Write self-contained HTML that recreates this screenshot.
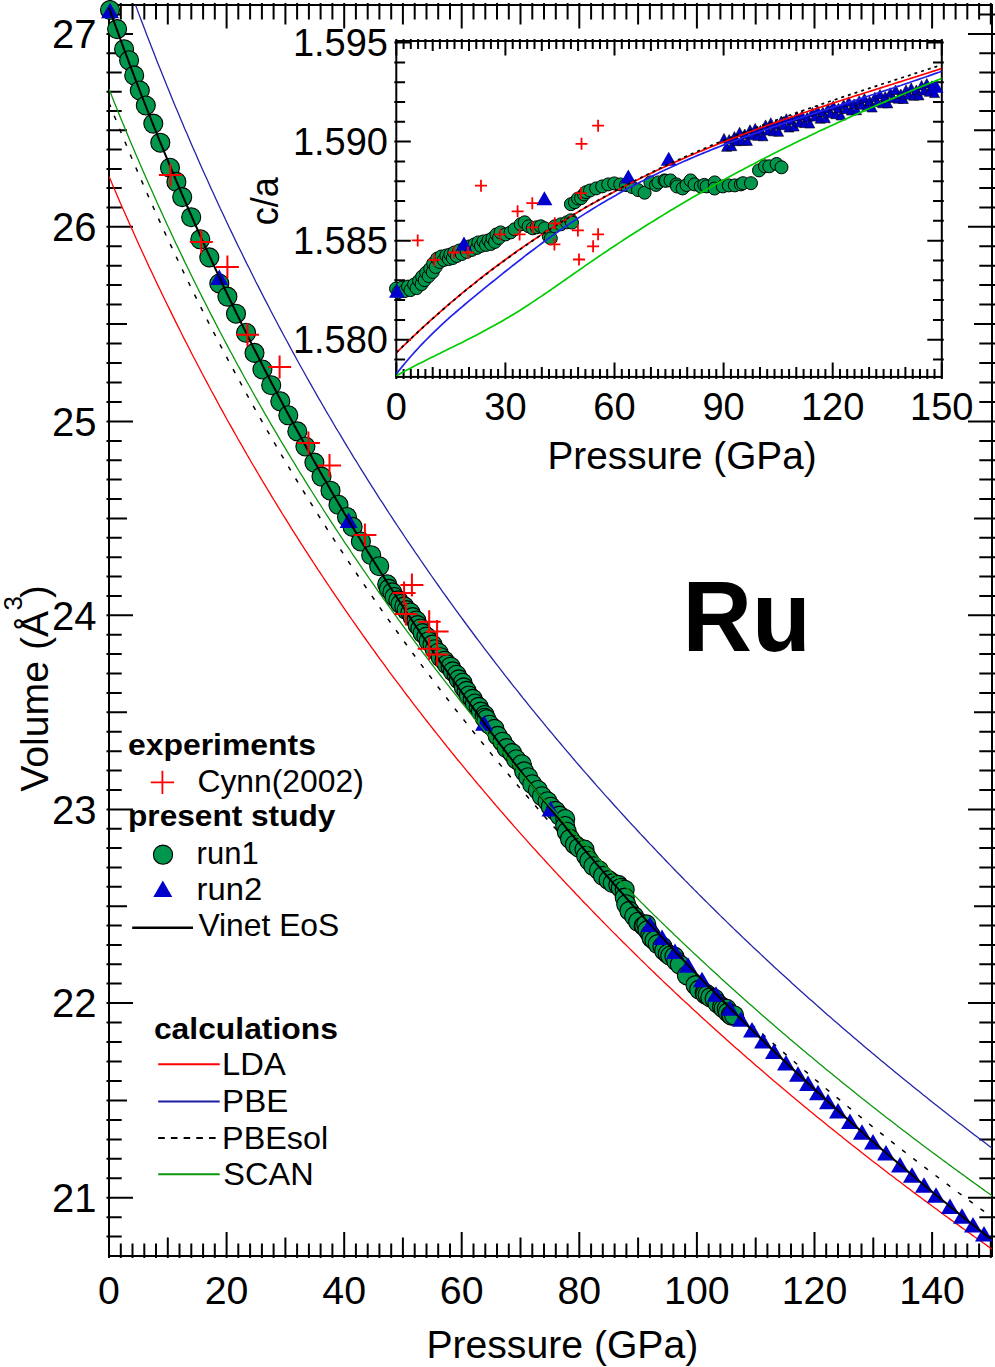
<!DOCTYPE html>
<html><head><meta charset="utf-8"><style>html,body{margin:0;padding:0;background:#fff;}svg{display:block;}</style></head>
<body>
<svg width="995" height="1367" viewBox="0 0 995 1367" font-family="'Liberation Sans', sans-serif">
<defs>
<clipPath id="cm"><rect x="109" y="5" width="883" height="1251"/></clipPath>
<clipPath id="ci"><rect x="396.3" y="41" width="545.5" height="335.9"/></clipPath>
</defs>
<rect width="995" height="1367" fill="#fff"/>
<rect x="109" y="5" width="883" height="1251" fill="none" stroke="#000" stroke-width="2"/>
<path d="M109,1258V1232M109,3V28.5M120.8,1258V1243.5M120.8,3V19.5M132.5,1258V1243.5M132.5,3V19.5M144.3,1258V1243.5M144.3,3V19.5M156,1258V1243.5M156,3V19.5M167.8,1258V1237.5M167.8,3V24.6M179.5,1258V1243.5M179.5,3V19.5M191.3,1258V1243.5M191.3,3V19.5M203.1,1258V1243.5M203.1,3V19.5M214.8,1258V1243.5M214.8,3V19.5M226.6,1258V1232M226.6,3V28.5M238.3,1258V1243.5M238.3,3V19.5M250.1,1258V1243.5M250.1,3V19.5M261.9,1258V1243.5M261.9,3V19.5M273.6,1258V1243.5M273.6,3V19.5M285.4,1258V1237.5M285.4,3V24.6M297.1,1258V1243.5M297.1,3V19.5M308.9,1258V1243.5M308.9,3V19.5M320.6,1258V1243.5M320.6,3V19.5M332.4,1258V1243.5M332.4,3V19.5M344.2,1258V1232M344.2,3V28.5M355.9,1258V1243.5M355.9,3V19.5M367.7,1258V1243.5M367.7,3V19.5M379.4,1258V1243.5M379.4,3V19.5M391.2,1258V1243.5M391.2,3V19.5M402.9,1258V1237.5M402.9,3V24.6M414.7,1258V1243.5M414.7,3V19.5M426.5,1258V1243.5M426.5,3V19.5M438.2,1258V1243.5M438.2,3V19.5M450,1258V1243.5M450,3V19.5M461.7,1258V1232M461.7,3V28.5M473.5,1258V1243.5M473.5,3V19.5M485.3,1258V1243.5M485.3,3V19.5M497,1258V1243.5M497,3V19.5M508.8,1258V1243.5M508.8,3V19.5M520.5,1258V1237.5M520.5,3V24.6M532.3,1258V1243.5M532.3,3V19.5M544,1258V1243.5M544,3V19.5M555.8,1258V1243.5M555.8,3V19.5M567.6,1258V1243.5M567.6,3V19.5M579.3,1258V1232M579.3,3V28.5M591.1,1258V1243.5M591.1,3V19.5M602.8,1258V1243.5M602.8,3V19.5M614.6,1258V1243.5M614.6,3V19.5M626.4,1258V1243.5M626.4,3V19.5M638.1,1258V1237.5M638.1,3V24.6M649.9,1258V1243.5M649.9,3V19.5M661.6,1258V1243.5M661.6,3V19.5M673.4,1258V1243.5M673.4,3V19.5M685.1,1258V1243.5M685.1,3V19.5M696.9,1258V1232M696.9,3V28.5M708.7,1258V1243.5M708.7,3V19.5M720.4,1258V1243.5M720.4,3V19.5M732.2,1258V1243.5M732.2,3V19.5M743.9,1258V1243.5M743.9,3V19.5M755.7,1258V1237.5M755.7,3V24.6M767.4,1258V1243.5M767.4,3V19.5M779.2,1258V1243.5M779.2,3V19.5M791,1258V1243.5M791,3V19.5M802.7,1258V1243.5M802.7,3V19.5M814.5,1258V1232M814.5,3V28.5M826.2,1258V1243.5M826.2,3V19.5M838,1258V1243.5M838,3V19.5M849.8,1258V1243.5M849.8,3V19.5M861.5,1258V1243.5M861.5,3V19.5M873.3,1258V1237.5M873.3,3V24.6M885,1258V1243.5M885,3V19.5M896.8,1258V1243.5M896.8,3V19.5M908.5,1258V1243.5M908.5,3V19.5M920.3,1258V1243.5M920.3,3V19.5M932.1,1258V1232M932.1,3V28.5M943.8,1258V1243.5M943.8,3V19.5M955.6,1258V1243.5M955.6,3V19.5M967.3,1258V1243.5M967.3,3V19.5M979.1,1258V1243.5M979.1,3V19.5M990.8,1258V1237.5M990.8,3V24.6M106.5,1236.6H121.7M995.5,1236.6H979.3M106.5,1217.2H121.7M995.5,1217.2H979.3M106.5,1197.8H133M995.5,1197.8H968M106.5,1178.3H121.7M995.5,1178.3H979.3M106.5,1158.8H121.7M995.5,1158.8H979.3M106.5,1139.4H121.7M995.5,1139.4H979.3M106.5,1119.9H121.7M995.5,1119.9H979.3M106.5,1100.4H127M995.5,1100.4H974M106.5,1080.9H121.7M995.5,1080.9H979.3M106.5,1061.4H121.7M995.5,1061.4H979.3M106.5,1042H121.7M995.5,1042H979.3M106.5,1022.5H121.7M995.5,1022.5H979.3M106.5,1003H133M995.5,1003H968M106.5,983.6H121.7M995.5,983.6H979.3M106.5,964.3H121.7M995.5,964.3H979.3M106.5,944.9H121.7M995.5,944.9H979.3M106.5,925.6H121.7M995.5,925.6H979.3M106.5,906.2H127M995.5,906.2H974M106.5,886.8H121.7M995.5,886.8H979.3M106.5,867.5H121.7M995.5,867.5H979.3M106.5,848.1H121.7M995.5,848.1H979.3M106.5,828.8H121.7M995.5,828.8H979.3M106.5,809.4H133M995.5,809.4H968M106.5,790H121.7M995.5,790H979.3M106.5,770.6H121.7M995.5,770.6H979.3M106.5,751.2H121.7M995.5,751.2H979.3M106.5,731.8H121.7M995.5,731.8H979.3M106.5,712.3H127M995.5,712.3H974M106.5,692.9H121.7M995.5,692.9H979.3M106.5,673.5H121.7M995.5,673.5H979.3M106.5,654.1H121.7M995.5,654.1H979.3M106.5,634.7H121.7M995.5,634.7H979.3M106.5,615.3H133M995.5,615.3H968M106.5,595.9H121.7M995.5,595.9H979.3M106.5,576.5H121.7M995.5,576.5H979.3M106.5,557.2H121.7M995.5,557.2H979.3M106.5,537.8H121.7M995.5,537.8H979.3M106.5,518.4H127M995.5,518.4H974M106.5,499H121.7M995.5,499H979.3M106.5,479.6H121.7M995.5,479.6H979.3M106.5,460.3H121.7M995.5,460.3H979.3M106.5,440.9H121.7M995.5,440.9H979.3M106.5,421.5H133M995.5,421.5H968M106.5,402H121.7M995.5,402H979.3M106.5,382.5H121.7M995.5,382.5H979.3M106.5,363.1H121.7M995.5,363.1H979.3M106.5,343.6H121.7M995.5,343.6H979.3M106.5,324.1H127M995.5,324.1H974M106.5,304.6H121.7M995.5,304.6H979.3M106.5,285.1H121.7M995.5,285.1H979.3M106.5,265.7H121.7M995.5,265.7H979.3M106.5,246.2H121.7M995.5,246.2H979.3M106.5,226.7H133M995.5,226.7H968M106.5,207.4H121.7M995.5,207.4H979.3M106.5,188.1H121.7M995.5,188.1H979.3M106.5,168.9H121.7M995.5,168.9H979.3M106.5,149.6H121.7M995.5,149.6H979.3M106.5,130.3H127M995.5,130.3H974M106.5,111H121.7M995.5,111H979.3M106.5,91.7H121.7M995.5,91.7H979.3M106.5,72.5H121.7M995.5,72.5H979.3M106.5,53.2H121.7M995.5,53.2H979.3M106.5,33.9H133M995.5,33.9H968M106.5,14.5H121.7M995.5,14.5H979.3" stroke="#000" stroke-width="2" fill="none"/>
<text x="109" y="1304.2" font-size="39.3" text-anchor="middle" font-weight="normal">0</text>
<text x="226.6" y="1304.2" font-size="39.3" text-anchor="middle" font-weight="normal">20</text>
<text x="344.2" y="1304.2" font-size="39.3" text-anchor="middle" font-weight="normal">40</text>
<text x="461.7" y="1304.2" font-size="39.3" text-anchor="middle" font-weight="normal">60</text>
<text x="579.3" y="1304.2" font-size="39.3" text-anchor="middle" font-weight="normal">80</text>
<text x="696.9" y="1304.2" font-size="39.3" text-anchor="middle" font-weight="normal">100</text>
<text x="814.5" y="1304.2" font-size="39.3" text-anchor="middle" font-weight="normal">120</text>
<text x="932.1" y="1304.2" font-size="39.3" text-anchor="middle" font-weight="normal">140</text>
<text x="96.5" y="1212.1" font-size="40" text-anchor="end" font-weight="normal">21</text>
<text x="96.5" y="1017.3" font-size="40" text-anchor="end" font-weight="normal">22</text>
<text x="96.5" y="823.7" font-size="40" text-anchor="end" font-weight="normal">23</text>
<text x="96.5" y="629.6" font-size="40" text-anchor="end" font-weight="normal">24</text>
<text x="96.5" y="435.8" font-size="40" text-anchor="end" font-weight="normal">25</text>
<text x="96.5" y="241" font-size="40" text-anchor="end" font-weight="normal">26</text>
<text x="96.5" y="48.2" font-size="40" text-anchor="end" font-weight="normal">27</text>
<text x="426.4" y="1358.1" font-size="38" text-anchor="start" font-weight="normal" textLength="271.9" lengthAdjust="spacingAndGlyphs">Pressure (GPa)</text>
<g transform="translate(48,792) rotate(-90)"><text x="0.20" y="0" font-size="38" textLength="180.93" lengthAdjust="spacingAndGlyphs">Volume (Å</text><text x="181.5" y="-26" font-size="26">3</text><text x="194" y="0" font-size="38">)</text></g>
<g clip-path="url(#cm)">
<path d="M109,176.4 L111.2,181.6 L113.4,186.9 L115.7,192.1 L117.9,197.2 L120.1,202.4 L122.3,207.5 L124.6,212.6 L126.8,217.6 L129,222.6 L131.2,227.6 L133.5,232.6 L135.7,237.5 L137.9,242.4 L140.1,247.3 L142.4,252.2 L144.6,257 L146.8,261.8 L149,266.6 L151.3,271.3 L153.5,276 L155.7,280.7 L157.9,285.4 L160.2,290 L162.4,294.7 L164.6,299.3 L166.8,303.8 L169.1,308.4 L171.3,312.9 L173.5,317.4 L175.7,321.9 L178,326.4 L180.2,330.8 L182.4,335.2 L184.6,339.6 L186.9,344 L189.1,348.3 L191.3,352.7 L193.5,357 L195.8,361.2 L198,365.5 L200.2,369.8 L202.4,374 L204.7,378.2 L206.9,382.4 L209.1,386.5 L211.3,390.7 L213.6,394.8 L215.8,398.9 L218,403 L220.2,407.1 L222.5,411.1 L224.7,415.2 L226.9,419.2 L229.1,423.2 L231.4,427.1 L233.6,431.1 L235.8,435 L238,439 L240.3,442.9 L242.5,446.8 L244.7,450.6 L246.9,454.5 L249.2,458.3 L251.4,462.2 L253.6,466 L255.8,469.7 L258.1,473.5 L260.3,477.3 L262.5,481 L264.7,484.7 L267,488.5 L269.2,492.2 L271.4,495.8 L273.6,499.5 L275.9,503.1 L278.1,506.8 L280.3,510.4 L282.5,514 L284.8,517.6 L287,521.2 L289.2,524.7 L291.4,528.3 L293.7,531.8 L295.9,535.3 L298.1,538.8 L300.3,542.3 L302.6,545.8 L304.8,549.3 L307,552.7 L309.2,556.2 L311.5,559.6 L313.7,563 L315.9,566.4 L318.1,569.8 L320.4,573.1 L322.6,576.5 L324.8,579.8 L327,583.2 L329.3,586.5 L331.5,589.8 L333.7,593.1 L335.9,596.4 L338.2,599.7 L340.4,602.9 L342.6,606.2 L344.8,609.4 L347.1,612.6 L349.3,615.8 L351.5,619 L353.7,622.2 L356,625.4 L358.2,628.6 L360.4,631.7 L362.6,634.9 L364.9,638 L367.1,641.1 L369.3,644.2 L371.5,647.3 L373.8,650.4 L376,653.5 L378.2,656.6 L380.4,659.6 L382.7,662.7 L384.9,665.7 L387.1,668.7 L389.3,671.8 L391.6,674.8 L393.8,677.8 L396,680.7 L398.2,683.7 L400.5,686.7 L402.7,689.6 L404.9,692.6 L407.1,695.5 L409.4,698.4 L411.6,701.4 L413.8,704.3 L416,707.2 L418.3,710.1 L420.5,712.9 L422.7,715.8 L424.9,718.7 L427.2,721.5 L429.4,724.4 L431.6,727.2 L433.8,730 L436.1,732.8 L438.3,735.6 L440.5,738.4 L442.7,741.2 L445,744 L447.2,746.8 L449.4,749.5 L451.6,752.3 L453.9,755 L456.1,757.8 L458.3,760.5 L460.5,763.2 L462.8,765.9 L465,768.6 L467.2,771.3 L469.4,774 L471.7,776.7 L473.9,779.3 L476.1,782 L478.3,784.7 L480.6,787.3 L482.8,789.9 L485,792.6 L487.2,795.2 L489.5,797.8 L491.7,800.4 L493.9,803 L496.1,805.6 L498.4,808.2 L500.6,810.8 L502.8,813.3 L505,815.9 L507.3,818.5 L509.5,821 L511.7,823.5 L513.9,826.1 L516.2,828.6 L518.4,831.1 L520.6,833.6 L522.8,836.1 L525.1,838.6 L527.3,841.1 L529.5,843.6 L531.7,846.1 L534,848.6 L536.2,851 L538.4,853.5 L540.6,855.9 L542.9,858.4 L545.1,860.8 L547.3,863.2 L549.5,865.6 L551.8,868.1 L554,870.5 L556.2,872.9 L558.4,875.3 L560.7,877.6 L562.9,880 L565.1,882.4 L567.3,884.8 L569.6,887.1 L571.8,889.5 L574,891.8 L576.2,894.2 L578.5,896.5 L580.7,898.9 L582.9,901.2 L585.1,903.5 L587.4,905.8 L589.6,908.1 L591.8,910.4 L594,912.7 L596.2,915 L598.5,917.3 L600.7,919.6 L602.9,921.8 L605.1,924.1 L607.4,926.4 L609.6,928.6 L611.8,930.9 L614,933.1 L616.3,935.3 L618.5,937.6 L620.7,939.8 L622.9,942 L625.2,944.2 L627.4,946.4 L629.6,948.6 L631.8,950.8 L634.1,953 L636.3,955.2 L638.5,957.4 L640.7,959.6 L643,961.8 L645.2,963.9 L647.4,966.1 L649.6,968.2 L651.9,970.4 L654.1,972.5 L656.3,974.7 L658.5,976.8 L660.8,978.9 L663,981.1 L665.2,983.2 L667.4,985.3 L669.7,987.4 L671.9,989.5 L674.1,991.6 L676.3,993.7 L678.6,995.8 L680.8,997.9 L683,999.9 L685.2,1002 L687.5,1004.1 L689.7,1006.1 L691.9,1008.2 L694.1,1010.3 L696.4,1012.3 L698.6,1014.3 L700.8,1016.4 L703,1018.4 L705.3,1020.4 L707.5,1022.5 L709.7,1024.5 L711.9,1026.5 L714.2,1028.5 L716.4,1030.5 L718.6,1032.5 L720.8,1034.5 L723.1,1036.5 L725.3,1038.5 L727.5,1040.5 L729.7,1042.5 L732,1044.5 L734.2,1046.4 L736.4,1048.4 L738.6,1050.3 L740.9,1052.3 L743.1,1054.3 L745.3,1056.2 L747.5,1058.2 L749.8,1060.1 L752,1062 L754.2,1064 L756.4,1065.9 L758.7,1067.8 L760.9,1069.7 L763.1,1071.6 L765.3,1073.6 L767.6,1075.5 L769.8,1077.4 L772,1079.3 L774.2,1081.2 L776.5,1083 L778.7,1084.9 L780.9,1086.8 L783.1,1088.7 L785.4,1090.6 L787.6,1092.4 L789.8,1094.3 L792,1096.2 L794.3,1098 L796.5,1099.9 L798.7,1101.7 L800.9,1103.6 L803.2,1105.4 L805.4,1107.2 L807.6,1109.1 L809.8,1110.9 L812.1,1112.7 L814.3,1114.6 L816.5,1116.4 L818.7,1118.2 L821,1120 L823.2,1121.8 L825.4,1123.6 L827.6,1125.4 L829.9,1127.2 L832.1,1129 L834.3,1130.8 L836.5,1132.6 L838.8,1134.4 L841,1136.1 L843.2,1137.9 L845.4,1139.7 L847.7,1141.5 L849.9,1143.2 L852.1,1145 L854.3,1146.7 L856.6,1148.5 L858.8,1150.2 L861,1152 L863.2,1153.7 L865.5,1155.5 L867.7,1157.2 L869.9,1158.9 L872.1,1160.7 L874.4,1162.4 L876.6,1164.1 L878.8,1165.8 L881,1167.5 L883.3,1169.2 L885.5,1171 L887.7,1172.7 L889.9,1174.4 L892.2,1176.1 L894.4,1177.8 L896.6,1179.4 L898.8,1181.1 L901.1,1182.8 L903.3,1184.5 L905.5,1186.2 L907.7,1187.9 L910,1189.5 L912.2,1191.2 L914.4,1192.9 L916.6,1194.5 L918.9,1196.2 L921.1,1197.8 L923.3,1199.5 L925.5,1201.1 L927.8,1202.8 L930,1204.4 L932.2,1206.1 L934.4,1207.7 L936.7,1209.3 L938.9,1211 L941.1,1212.6 L943.3,1214.2 L945.6,1215.9 L947.8,1217.5 L950,1219.1 L952.2,1220.7 L954.5,1222.3 L956.7,1223.9 L958.9,1225.5 L961.1,1227.1 L963.4,1228.7 L965.6,1230.3 L967.8,1231.9 L970,1233.5 L972.3,1235.1 L974.5,1236.7 L976.7,1238.2 L978.9,1239.8 L981.2,1241.4 L983.4,1243 L985.6,1244.5 L987.8,1246.1 L990.1,1247.7 L992.3,1249.2 L994.5,1250.8 L996.7,1252.3" fill="none" stroke="#ff0000" stroke-width="1.3"/>
<path d="M109,-69.6 L111.2,-63.1 L113.4,-56.6 L115.7,-50.2 L117.9,-43.9 L120.1,-37.6 L122.3,-31.3 L124.6,-25.1 L126.8,-18.9 L129,-12.8 L131.2,-6.7 L133.5,-0.6 L135.7,5.4 L137.9,11.4 L140.1,17.3 L142.4,23.2 L144.6,29 L146.8,34.9 L149,40.6 L151.3,46.4 L153.5,52.1 L155.7,57.8 L157.9,63.4 L160.2,69 L162.4,74.5 L164.6,80.1 L166.8,85.6 L169.1,91 L171.3,96.5 L173.5,101.9 L175.7,107.2 L178,112.6 L180.2,117.9 L182.4,123.1 L184.6,128.4 L186.9,133.6 L189.1,138.7 L191.3,143.9 L193.5,149 L195.8,154.1 L198,159.2 L200.2,164.2 L202.4,169.2 L204.7,174.2 L206.9,179.1 L209.1,184.1 L211.3,188.9 L213.6,193.8 L215.8,198.7 L218,203.5 L220.2,208.3 L222.5,213 L224.7,217.8 L226.9,222.5 L229.1,227.2 L231.4,231.9 L233.6,236.5 L235.8,241.1 L238,245.7 L240.3,250.3 L242.5,254.8 L244.7,259.4 L246.9,263.9 L249.2,268.3 L251.4,272.8 L253.6,277.2 L255.8,281.7 L258.1,286.1 L260.3,290.4 L262.5,294.8 L264.7,299.1 L267,303.4 L269.2,307.7 L271.4,312 L273.6,316.2 L275.9,320.5 L278.1,324.7 L280.3,328.9 L282.5,333 L284.8,337.2 L287,341.3 L289.2,345.4 L291.4,349.5 L293.7,353.6 L295.9,357.7 L298.1,361.7 L300.3,365.7 L302.6,369.7 L304.8,373.7 L307,377.7 L309.2,381.6 L311.5,385.6 L313.7,389.5 L315.9,393.4 L318.1,397.3 L320.4,401.1 L322.6,405 L324.8,408.8 L327,412.7 L329.3,416.5 L331.5,420.2 L333.7,424 L335.9,427.8 L338.2,431.5 L340.4,435.2 L342.6,438.9 L344.8,442.6 L347.1,446.3 L349.3,450 L351.5,453.6 L353.7,457.3 L356,460.9 L358.2,464.5 L360.4,468.1 L362.6,471.6 L364.9,475.2 L367.1,478.8 L369.3,482.3 L371.5,485.8 L373.8,489.3 L376,492.8 L378.2,496.3 L380.4,499.8 L382.7,503.2 L384.9,506.7 L387.1,510.1 L389.3,513.5 L391.6,516.9 L393.8,520.3 L396,523.7 L398.2,527 L400.5,530.4 L402.7,533.7 L404.9,537 L407.1,540.4 L409.4,543.7 L411.6,546.9 L413.8,550.2 L416,553.5 L418.3,556.7 L420.5,560 L422.7,563.2 L424.9,566.4 L427.2,569.6 L429.4,572.8 L431.6,576 L433.8,579.2 L436.1,582.4 L438.3,585.5 L440.5,588.7 L442.7,591.8 L445,594.9 L447.2,598 L449.4,601.1 L451.6,604.2 L453.9,607.3 L456.1,610.3 L458.3,613.4 L460.5,616.4 L462.8,619.5 L465,622.5 L467.2,625.5 L469.4,628.5 L471.7,631.5 L473.9,634.5 L476.1,637.5 L478.3,640.4 L480.6,643.4 L482.8,646.3 L485,649.3 L487.2,652.2 L489.5,655.1 L491.7,658 L493.9,660.9 L496.1,663.8 L498.4,666.7 L500.6,669.6 L502.8,672.4 L505,675.3 L507.3,678.1 L509.5,681 L511.7,683.8 L513.9,686.6 L516.2,689.4 L518.4,692.2 L520.6,695 L522.8,697.8 L525.1,700.5 L527.3,703.3 L529.5,706.1 L531.7,708.8 L534,711.6 L536.2,714.3 L538.4,717 L540.6,719.7 L542.9,722.4 L545.1,725.1 L547.3,727.8 L549.5,730.5 L551.8,733.2 L554,735.8 L556.2,738.5 L558.4,741.2 L560.7,743.8 L562.9,746.4 L565.1,749.1 L567.3,751.7 L569.6,754.3 L571.8,756.9 L574,759.5 L576.2,762.1 L578.5,764.7 L580.7,767.2 L582.9,769.8 L585.1,772.4 L587.4,774.9 L589.6,777.5 L591.8,780 L594,782.5 L596.2,785.1 L598.5,787.6 L600.7,790.1 L602.9,792.6 L605.1,795.1 L607.4,797.6 L609.6,800 L611.8,802.5 L614,805 L616.3,807.5 L618.5,809.9 L620.7,812.4 L622.9,814.8 L625.2,817.2 L627.4,819.7 L629.6,822.1 L631.8,824.5 L634.1,826.9 L636.3,829.3 L638.5,831.7 L640.7,834.1 L643,836.5 L645.2,838.8 L647.4,841.2 L649.6,843.6 L651.9,845.9 L654.1,848.3 L656.3,850.6 L658.5,853 L660.8,855.3 L663,857.6 L665.2,860 L667.4,862.3 L669.7,864.6 L671.9,866.9 L674.1,869.2 L676.3,871.5 L678.6,873.8 L680.8,876 L683,878.3 L685.2,880.6 L687.5,882.8 L689.7,885.1 L691.9,887.3 L694.1,889.6 L696.4,891.8 L698.6,894.1 L700.8,896.3 L703,898.5 L705.3,900.7 L707.5,902.9 L709.7,905.1 L711.9,907.3 L714.2,909.5 L716.4,911.7 L718.6,913.9 L720.8,916.1 L723.1,918.3 L725.3,920.4 L727.5,922.6 L729.7,924.8 L732,926.9 L734.2,929.1 L736.4,931.2 L738.6,933.3 L740.9,935.5 L743.1,937.6 L745.3,939.7 L747.5,941.8 L749.8,944 L752,946.1 L754.2,948.2 L756.4,950.3 L758.7,952.3 L760.9,954.4 L763.1,956.5 L765.3,958.6 L767.6,960.7 L769.8,962.7 L772,964.8 L774.2,966.9 L776.5,968.9 L778.7,971 L780.9,973 L783.1,975 L785.4,977.1 L787.6,979.1 L789.8,981.1 L792,983.2 L794.3,985.2 L796.5,987.2 L798.7,989.2 L800.9,991.2 L803.2,993.2 L805.4,995.2 L807.6,997.2 L809.8,999.2 L812.1,1001.1 L814.3,1003.1 L816.5,1005.1 L818.7,1007 L821,1009 L823.2,1011 L825.4,1012.9 L827.6,1014.9 L829.9,1016.8 L832.1,1018.8 L834.3,1020.7 L836.5,1022.6 L838.8,1024.6 L841,1026.5 L843.2,1028.4 L845.4,1030.3 L847.7,1032.2 L849.9,1034.1 L852.1,1036 L854.3,1037.9 L856.6,1039.8 L858.8,1041.7 L861,1043.6 L863.2,1045.5 L865.5,1047.4 L867.7,1049.2 L869.9,1051.1 L872.1,1053 L874.4,1054.8 L876.6,1056.7 L878.8,1058.6 L881,1060.4 L883.3,1062.3 L885.5,1064.1 L887.7,1065.9 L889.9,1067.8 L892.2,1069.6 L894.4,1071.4 L896.6,1073.3 L898.8,1075.1 L901.1,1076.9 L903.3,1078.7 L905.5,1080.5 L907.7,1082.3 L910,1084.1 L912.2,1085.9 L914.4,1087.7 L916.6,1089.5 L918.9,1091.3 L921.1,1093.1 L923.3,1094.9 L925.5,1096.6 L927.8,1098.4 L930,1100.2 L932.2,1102 L934.4,1103.7 L936.7,1105.5 L938.9,1107.2 L941.1,1109 L943.3,1110.7 L945.6,1112.5 L947.8,1114.2 L950,1116 L952.2,1117.7 L954.5,1119.4 L956.7,1121.2 L958.9,1122.9 L961.1,1124.6 L963.4,1126.3 L965.6,1128 L967.8,1129.7 L970,1131.4 L972.3,1133.2 L974.5,1134.9 L976.7,1136.6 L978.9,1138.2 L981.2,1139.9 L983.4,1141.6 L985.6,1143.3 L987.8,1145 L990.1,1146.7 L992.3,1148.3 L994.5,1150 L996.7,1151.7" fill="none" stroke="#2424a4" stroke-width="1.3"/>
<path d="M109,102.8 L111.2,108.3 L113.4,113.8 L115.7,119.3 L117.9,124.8 L120.1,130.2 L122.3,135.6 L124.6,140.9 L126.8,146.2 L129,151.5 L131.2,156.8 L133.5,162 L135.7,167.2 L137.9,172.3 L140.1,177.5 L142.4,182.6 L144.6,187.7 L146.8,192.7 L149,197.7 L151.3,202.7 L153.5,207.7 L155.7,212.6 L157.9,217.5 L160.2,222.4 L162.4,227.2 L164.6,232.1 L166.8,236.9 L169.1,241.7 L171.3,246.4 L173.5,251.1 L175.7,255.8 L178,260.5 L180.2,265.2 L182.4,269.8 L184.6,274.4 L186.9,279 L189.1,283.5 L191.3,288.1 L193.5,292.6 L195.8,297.1 L198,301.5 L200.2,306 L202.4,310.4 L204.7,314.8 L206.9,319.2 L209.1,323.6 L211.3,327.9 L213.6,332.2 L215.8,336.5 L218,340.8 L220.2,345 L222.5,349.3 L224.7,353.5 L226.9,357.7 L229.1,361.9 L231.4,366 L233.6,370.2 L235.8,374.3 L238,378.4 L240.3,382.5 L242.5,386.5 L244.7,390.6 L246.9,394.6 L249.2,398.6 L251.4,402.6 L253.6,406.6 L255.8,410.5 L258.1,414.5 L260.3,418.4 L262.5,422.3 L264.7,426.2 L267,430.1 L269.2,433.9 L271.4,437.8 L273.6,441.6 L275.9,445.4 L278.1,449.2 L280.3,453 L282.5,456.7 L284.8,460.5 L287,464.2 L289.2,467.9 L291.4,471.6 L293.7,475.3 L295.9,479 L298.1,482.6 L300.3,486.2 L302.6,489.9 L304.8,493.5 L307,497.1 L309.2,500.7 L311.5,504.2 L313.7,507.8 L315.9,511.3 L318.1,514.8 L320.4,518.3 L322.6,521.8 L324.8,525.3 L327,528.8 L329.3,532.3 L331.5,535.7 L333.7,539.1 L335.9,542.5 L338.2,545.9 L340.4,549.3 L342.6,552.7 L344.8,556.1 L347.1,559.4 L349.3,562.8 L351.5,566.1 L353.7,569.4 L356,572.7 L358.2,576 L360.4,579.3 L362.6,582.6 L364.9,585.8 L367.1,589.1 L369.3,592.3 L371.5,595.5 L373.8,598.7 L376,601.9 L378.2,605.1 L380.4,608.3 L382.7,611.5 L384.9,614.6 L387.1,617.8 L389.3,620.9 L391.6,624 L393.8,627.1 L396,630.2 L398.2,633.3 L400.5,636.4 L402.7,639.5 L404.9,642.5 L407.1,645.6 L409.4,648.6 L411.6,651.6 L413.8,654.7 L416,657.7 L418.3,660.7 L420.5,663.7 L422.7,666.6 L424.9,669.6 L427.2,672.6 L429.4,675.5 L431.6,678.4 L433.8,681.4 L436.1,684.3 L438.3,687.2 L440.5,690.1 L442.7,693 L445,695.9 L447.2,698.7 L449.4,701.6 L451.6,704.5 L453.9,707.3 L456.1,710.2 L458.3,713 L460.5,715.8 L462.8,718.6 L465,721.4 L467.2,724.2 L469.4,727 L471.7,729.8 L473.9,732.5 L476.1,735.3 L478.3,738 L480.6,740.8 L482.8,743.5 L485,746.2 L487.2,749 L489.5,751.7 L491.7,754.4 L493.9,757.1 L496.1,759.7 L498.4,762.4 L500.6,765.1 L502.8,767.7 L505,770.4 L507.3,773 L509.5,775.7 L511.7,778.3 L513.9,780.9 L516.2,783.5 L518.4,786.2 L520.6,788.8 L522.8,791.3 L525.1,793.9 L527.3,796.5 L529.5,799.1 L531.7,801.6 L534,804.2 L536.2,806.7 L538.4,809.3 L540.6,811.8 L542.9,814.3 L545.1,816.9 L547.3,819.4 L549.5,821.9 L551.8,824.4 L554,826.9 L556.2,829.3 L558.4,831.8 L560.7,834.3 L562.9,836.8 L565.1,839.2 L567.3,841.7 L569.6,844.1 L571.8,846.5 L574,849 L576.2,851.4 L578.5,853.8 L580.7,856.2 L582.9,858.6 L585.1,861 L587.4,863.4 L589.6,865.8 L591.8,868.2 L594,870.5 L596.2,872.9 L598.5,875.3 L600.7,877.6 L602.9,880 L605.1,882.3 L607.4,884.7 L609.6,887 L611.8,889.3 L614,891.6 L616.3,893.9 L618.5,896.2 L620.7,898.5 L622.9,900.8 L625.2,903.1 L627.4,905.4 L629.6,907.7 L631.8,909.9 L634.1,912.2 L636.3,914.5 L638.5,916.7 L640.7,919 L643,921.2 L645.2,923.4 L647.4,925.7 L649.6,927.9 L651.9,930.1 L654.1,932.3 L656.3,934.5 L658.5,936.7 L660.8,938.9 L663,941.1 L665.2,943.3 L667.4,945.5 L669.7,947.7 L671.9,949.8 L674.1,952 L676.3,954.2 L678.6,956.3 L680.8,958.5 L683,960.6 L685.2,962.8 L687.5,964.9 L689.7,967 L691.9,969.1 L694.1,971.3 L696.4,973.4 L698.6,975.5 L700.8,977.6 L703,979.7 L705.3,981.8 L707.5,983.9 L709.7,986 L711.9,988 L714.2,990.1 L716.4,992.2 L718.6,994.2 L720.8,996.3 L723.1,998.4 L725.3,1000.4 L727.5,1002.5 L729.7,1004.5 L732,1006.5 L734.2,1008.6 L736.4,1010.6 L738.6,1012.6 L740.9,1014.6 L743.1,1016.7 L745.3,1018.7 L747.5,1020.7 L749.8,1022.7 L752,1024.7 L754.2,1026.7 L756.4,1028.6 L758.7,1030.6 L760.9,1032.6 L763.1,1034.6 L765.3,1036.5 L767.6,1038.5 L769.8,1040.5 L772,1042.4 L774.2,1044.4 L776.5,1046.3 L778.7,1048.3 L780.9,1050.2 L783.1,1052.1 L785.4,1054.1 L787.6,1056 L789.8,1057.9 L792,1059.8 L794.3,1061.8 L796.5,1063.7 L798.7,1065.6 L800.9,1067.5 L803.2,1069.4 L805.4,1071.3 L807.6,1073.1 L809.8,1075 L812.1,1076.9 L814.3,1078.8 L816.5,1080.7 L818.7,1082.5 L821,1084.4 L823.2,1086.3 L825.4,1088.1 L827.6,1090 L829.9,1091.8 L832.1,1093.7 L834.3,1095.5 L836.5,1097.4 L838.8,1099.2 L841,1101 L843.2,1102.8 L845.4,1104.7 L847.7,1106.5 L849.9,1108.3 L852.1,1110.1 L854.3,1111.9 L856.6,1113.7 L858.8,1115.5 L861,1117.3 L863.2,1119.1 L865.5,1120.9 L867.7,1122.7 L869.9,1124.5 L872.1,1126.3 L874.4,1128 L876.6,1129.8 L878.8,1131.6 L881,1133.3 L883.3,1135.1 L885.5,1136.9 L887.7,1138.6 L889.9,1140.4 L892.2,1142.1 L894.4,1143.9 L896.6,1145.6 L898.8,1147.3 L901.1,1149.1 L903.3,1150.8 L905.5,1152.5 L907.7,1154.2 L910,1156 L912.2,1157.7 L914.4,1159.4 L916.6,1161.1 L918.9,1162.8 L921.1,1164.5 L923.3,1166.2 L925.5,1167.9 L927.8,1169.6 L930,1171.3 L932.2,1173 L934.4,1174.7 L936.7,1176.4 L938.9,1178 L941.1,1179.7 L943.3,1181.4 L945.6,1183 L947.8,1184.7 L950,1186.4 L952.2,1188 L954.5,1189.7 L956.7,1191.3 L958.9,1193 L961.1,1194.6 L963.4,1196.3 L965.6,1197.9 L967.8,1199.6 L970,1201.2 L972.3,1202.8 L974.5,1204.4 L976.7,1206.1 L978.9,1207.7 L981.2,1209.3 L983.4,1210.9 L985.6,1212.5 L987.8,1214.1 L990.1,1215.8 L992.3,1217.4 L994.5,1219 L996.7,1220.6" fill="none" stroke="#000" stroke-width="1.5" stroke-dasharray="4.5,9.5"/>
</g>
<circle cx="110" cy="10" r="9.5" fill="#00964b" stroke="#000" stroke-width="1.1"/>
<circle cx="117.1" cy="29.1" r="9.5" fill="#00964b" stroke="#000" stroke-width="1.1"/>
<circle cx="124.1" cy="49.2" r="9.5" fill="#00964b" stroke="#000" stroke-width="1.1"/>
<circle cx="129.1" cy="60.3" r="9.5" fill="#00964b" stroke="#000" stroke-width="1.1"/>
<circle cx="134.2" cy="75.4" r="9.5" fill="#00964b" stroke="#000" stroke-width="1.1"/>
<circle cx="139.8" cy="90.5" r="9.5" fill="#00964b" stroke="#000" stroke-width="1.1"/>
<circle cx="145.8" cy="105.5" r="9.5" fill="#00964b" stroke="#000" stroke-width="1.1"/>
<circle cx="153.3" cy="123.6" r="9.5" fill="#00964b" stroke="#000" stroke-width="1.1"/>
<circle cx="160.3" cy="142.7" r="9.5" fill="#00964b" stroke="#000" stroke-width="1.1"/>
<circle cx="170" cy="167.8" r="9.5" fill="#00964b" stroke="#000" stroke-width="1.1"/>
<circle cx="176.4" cy="181.9" r="9.5" fill="#00964b" stroke="#000" stroke-width="1.1"/>
<circle cx="182.2" cy="197.1" r="9.5" fill="#00964b" stroke="#000" stroke-width="1.1"/>
<circle cx="191.2" cy="217.2" r="9.5" fill="#00964b" stroke="#000" stroke-width="1.1"/>
<circle cx="200.3" cy="239.3" r="9.5" fill="#00964b" stroke="#000" stroke-width="1.1"/>
<circle cx="209.3" cy="257.4" r="9.5" fill="#00964b" stroke="#000" stroke-width="1.1"/>
<circle cx="219.3" cy="283.5" r="9.5" fill="#00964b" stroke="#000" stroke-width="1.1"/>
<circle cx="227.4" cy="296.6" r="9.5" fill="#00964b" stroke="#000" stroke-width="1.1"/>
<circle cx="236" cy="313.7" r="9.5" fill="#00964b" stroke="#000" stroke-width="1.1"/>
<circle cx="246.1" cy="332.8" r="9.5" fill="#00964b" stroke="#000" stroke-width="1.1"/>
<circle cx="254.5" cy="352.9" r="9.5" fill="#00964b" stroke="#000" stroke-width="1.1"/>
<circle cx="262.4" cy="369.5" r="9.5" fill="#00964b" stroke="#000" stroke-width="1.1"/>
<circle cx="271.2" cy="385.2" r="9.5" fill="#00964b" stroke="#000" stroke-width="1.1"/>
<circle cx="280.3" cy="401.3" r="9.5" fill="#00964b" stroke="#000" stroke-width="1.1"/>
<circle cx="288.3" cy="415.3" r="9.5" fill="#00964b" stroke="#000" stroke-width="1.1"/>
<circle cx="297.3" cy="431.4" r="9.5" fill="#00964b" stroke="#000" stroke-width="1.1"/>
<circle cx="305.4" cy="446.5" r="9.5" fill="#00964b" stroke="#000" stroke-width="1.1"/>
<circle cx="314.4" cy="462.6" r="9.5" fill="#00964b" stroke="#000" stroke-width="1.1"/>
<circle cx="321.5" cy="476.6" r="9.5" fill="#00964b" stroke="#000" stroke-width="1.1"/>
<circle cx="330.5" cy="490.7" r="9.5" fill="#00964b" stroke="#000" stroke-width="1.1"/>
<circle cx="338.5" cy="504.8" r="9.5" fill="#00964b" stroke="#000" stroke-width="1.1"/>
<circle cx="347" cy="517" r="9.5" fill="#00964b" stroke="#000" stroke-width="1.1"/>
<circle cx="352.6" cy="526.9" r="9.5" fill="#00964b" stroke="#000" stroke-width="1.1"/>
<circle cx="360.9" cy="541.5" r="9.5" fill="#00964b" stroke="#000" stroke-width="1.1"/>
<circle cx="371.2" cy="555.2" r="9.5" fill="#00964b" stroke="#000" stroke-width="1.1"/>
<circle cx="379.2" cy="566.2" r="9.5" fill="#00964b" stroke="#000" stroke-width="1.1"/>
<circle cx="387.2" cy="584.3" r="9.5" fill="#00964b" stroke="#000" stroke-width="1.1"/>
<circle cx="388.9" cy="588.9" r="9.5" fill="#00964b" stroke="#000" stroke-width="1.1"/>
<circle cx="392.3" cy="592.4" r="9.5" fill="#00964b" stroke="#000" stroke-width="1.1"/>
<circle cx="394.5" cy="597" r="9.5" fill="#00964b" stroke="#000" stroke-width="1.1"/>
<circle cx="398.3" cy="600.4" r="9.5" fill="#00964b" stroke="#000" stroke-width="1.1"/>
<circle cx="400.5" cy="604" r="9.5" fill="#00964b" stroke="#000" stroke-width="1.1"/>
<circle cx="404.3" cy="606.4" r="9.5" fill="#00964b" stroke="#000" stroke-width="1.1"/>
<circle cx="406.6" cy="610.1" r="9.5" fill="#00964b" stroke="#000" stroke-width="1.1"/>
<circle cx="410.4" cy="612.5" r="9.5" fill="#00964b" stroke="#000" stroke-width="1.1"/>
<circle cx="412.6" cy="617.1" r="9.5" fill="#00964b" stroke="#000" stroke-width="1.1"/>
<circle cx="416.4" cy="620.5" r="9.5" fill="#00964b" stroke="#000" stroke-width="1.1"/>
<circle cx="417.6" cy="625.1" r="9.5" fill="#00964b" stroke="#000" stroke-width="1.1"/>
<circle cx="420.4" cy="628.5" r="9.5" fill="#00964b" stroke="#000" stroke-width="1.1"/>
<circle cx="422.6" cy="633.1" r="9.5" fill="#00964b" stroke="#000" stroke-width="1.1"/>
<circle cx="426.4" cy="636.6" r="9.5" fill="#00964b" stroke="#000" stroke-width="1.1"/>
<circle cx="428.6" cy="641.2" r="9.5" fill="#00964b" stroke="#000" stroke-width="1.1"/>
<circle cx="432.5" cy="644.6" r="9.5" fill="#00964b" stroke="#000" stroke-width="1.1"/>
<circle cx="434.7" cy="649.3" r="9.5" fill="#00964b" stroke="#000" stroke-width="1.1"/>
<circle cx="438.5" cy="652.7" r="9.5" fill="#00964b" stroke="#000" stroke-width="1.1"/>
<circle cx="440.7" cy="657.3" r="9.5" fill="#00964b" stroke="#000" stroke-width="1.1"/>
<circle cx="444.5" cy="660.7" r="9.5" fill="#00964b" stroke="#000" stroke-width="1.1"/>
<circle cx="446.8" cy="664.3" r="9.5" fill="#00964b" stroke="#000" stroke-width="1.1"/>
<circle cx="450.6" cy="666.7" r="9.5" fill="#00964b" stroke="#000" stroke-width="1.1"/>
<circle cx="452.8" cy="671.4" r="9.5" fill="#00964b" stroke="#000" stroke-width="1.1"/>
<circle cx="456.6" cy="674.8" r="9.5" fill="#00964b" stroke="#000" stroke-width="1.1"/>
<circle cx="458.8" cy="679.4" r="9.5" fill="#00964b" stroke="#000" stroke-width="1.1"/>
<circle cx="462.6" cy="682.8" r="9.5" fill="#00964b" stroke="#000" stroke-width="1.1"/>
<circle cx="463.8" cy="687.4" r="9.5" fill="#00964b" stroke="#000" stroke-width="1.1"/>
<circle cx="466.6" cy="690.9" r="9.5" fill="#00964b" stroke="#000" stroke-width="1.1"/>
<circle cx="468.8" cy="695.5" r="9.5" fill="#00964b" stroke="#000" stroke-width="1.1"/>
<circle cx="472.7" cy="698.9" r="9.5" fill="#00964b" stroke="#000" stroke-width="1.1"/>
<circle cx="474.9" cy="703.5" r="9.5" fill="#00964b" stroke="#000" stroke-width="1.1"/>
<circle cx="478.7" cy="706.9" r="9.5" fill="#00964b" stroke="#000" stroke-width="1.1"/>
<circle cx="480.9" cy="711.6" r="9.5" fill="#00964b" stroke="#000" stroke-width="1.1"/>
<circle cx="484.7" cy="715" r="9.5" fill="#00964b" stroke="#000" stroke-width="1.1"/>
<circle cx="484.7" cy="717.8" r="9.5" fill="#00964b" stroke="#000" stroke-width="1.1"/>
<circle cx="486.4" cy="719.3" r="9.5" fill="#00964b" stroke="#000" stroke-width="1.1"/>
<circle cx="489.6" cy="724.7" r="9.5" fill="#00964b" stroke="#000" stroke-width="1.1"/>
<circle cx="494.5" cy="728.9" r="9.5" fill="#00964b" stroke="#000" stroke-width="1.1"/>
<circle cx="497.7" cy="735.9" r="9.5" fill="#00964b" stroke="#000" stroke-width="1.1"/>
<circle cx="502.5" cy="741.8" r="9.5" fill="#00964b" stroke="#000" stroke-width="1.1"/>
<circle cx="506.6" cy="748.1" r="9.5" fill="#00964b" stroke="#000" stroke-width="1.1"/>
<circle cx="512.2" cy="753.1" r="9.5" fill="#00964b" stroke="#000" stroke-width="1.1"/>
<circle cx="516.2" cy="759.3" r="9.5" fill="#00964b" stroke="#000" stroke-width="1.1"/>
<circle cx="521.8" cy="764.3" r="9.5" fill="#00964b" stroke="#000" stroke-width="1.1"/>
<circle cx="524.2" cy="771.4" r="9.5" fill="#00964b" stroke="#000" stroke-width="1.1"/>
<circle cx="528.2" cy="777.2" r="9.5" fill="#00964b" stroke="#000" stroke-width="1.1"/>
<circle cx="532.2" cy="784.2" r="9.5" fill="#00964b" stroke="#000" stroke-width="1.1"/>
<circle cx="537.9" cy="790" r="9.5" fill="#00964b" stroke="#000" stroke-width="1.1"/>
<circle cx="541.9" cy="796.2" r="9.5" fill="#00964b" stroke="#000" stroke-width="1.1"/>
<circle cx="547.5" cy="801.3" r="9.5" fill="#00964b" stroke="#000" stroke-width="1.1"/>
<circle cx="550.8" cy="806.7" r="9.5" fill="#00964b" stroke="#000" stroke-width="1.1"/>
<circle cx="555.6" cy="810.9" r="9.5" fill="#00964b" stroke="#000" stroke-width="1.1"/>
<circle cx="559.6" cy="815.6" r="9.5" fill="#00964b" stroke="#000" stroke-width="1.1"/>
<circle cx="565.2" cy="819" r="9.5" fill="#00964b" stroke="#000" stroke-width="1.1"/>
<circle cx="565.2" cy="826" r="9.5" fill="#00964b" stroke="#000" stroke-width="1.1"/>
<circle cx="566.8" cy="831.8" r="9.5" fill="#00964b" stroke="#000" stroke-width="1.1"/>
<circle cx="570" cy="838.9" r="9.5" fill="#00964b" stroke="#000" stroke-width="1.1"/>
<circle cx="574.9" cy="844.7" r="9.5" fill="#00964b" stroke="#000" stroke-width="1.1"/>
<circle cx="578.9" cy="847.7" r="9.5" fill="#00964b" stroke="#000" stroke-width="1.1"/>
<circle cx="584.5" cy="849.5" r="9.5" fill="#00964b" stroke="#000" stroke-width="1.1"/>
<circle cx="586.1" cy="855.8" r="9.5" fill="#00964b" stroke="#000" stroke-width="1.1"/>
<circle cx="589.3" cy="860.8" r="9.5" fill="#00964b" stroke="#000" stroke-width="1.1"/>
<circle cx="593.4" cy="866.2" r="9.5" fill="#00964b" stroke="#000" stroke-width="1.1"/>
<circle cx="599" cy="870.4" r="9.5" fill="#00964b" stroke="#000" stroke-width="1.1"/>
<circle cx="603" cy="875.9" r="9.5" fill="#00964b" stroke="#000" stroke-width="1.1"/>
<circle cx="608.6" cy="880.1" r="9.5" fill="#00964b" stroke="#000" stroke-width="1.1"/>
<circle cx="612.7" cy="883.1" r="9.5" fill="#00964b" stroke="#000" stroke-width="1.1"/>
<circle cx="618.3" cy="884.9" r="9.5" fill="#00964b" stroke="#000" stroke-width="1.1"/>
<circle cx="620.7" cy="887.9" r="9.5" fill="#00964b" stroke="#000" stroke-width="1.1"/>
<circle cx="624.7" cy="889.7" r="9.5" fill="#00964b" stroke="#000" stroke-width="1.1"/>
<circle cx="624.7" cy="897.6" r="9.5" fill="#00964b" stroke="#000" stroke-width="1.1"/>
<circle cx="626.2" cy="904.3" r="9.5" fill="#00964b" stroke="#000" stroke-width="1.1"/>
<circle cx="629.4" cy="910.9" r="9.5" fill="#00964b" stroke="#000" stroke-width="1.1"/>
<circle cx="634.2" cy="916.4" r="9.5" fill="#00964b" stroke="#000" stroke-width="1.1"/>
<circle cx="638.1" cy="921.8" r="9.5" fill="#00964b" stroke="#000" stroke-width="1.1"/>
<circle cx="643.6" cy="926" r="9.5" fill="#00964b" stroke="#000" stroke-width="1.1"/>
<circle cx="644.2" cy="925.8" r="9.5" fill="#00964b" stroke="#000" stroke-width="1.1"/>
<circle cx="646.3" cy="924.4" r="9.5" fill="#00964b" stroke="#000" stroke-width="1.1"/>
<circle cx="647.5" cy="930.1" r="9.5" fill="#00964b" stroke="#000" stroke-width="1.1"/>
<circle cx="650.3" cy="934.5" r="9.5" fill="#00964b" stroke="#000" stroke-width="1.1"/>
<circle cx="651.6" cy="938.1" r="9.5" fill="#00964b" stroke="#000" stroke-width="1.1"/>
<circle cx="654.5" cy="940.5" r="9.5" fill="#00964b" stroke="#000" stroke-width="1.1"/>
<circle cx="657.7" cy="944.1" r="9.5" fill="#00964b" stroke="#000" stroke-width="1.1"/>
<circle cx="662.4" cy="946.5" r="9.5" fill="#00964b" stroke="#000" stroke-width="1.1"/>
<circle cx="664.2" cy="950.8" r="9.5" fill="#00964b" stroke="#000" stroke-width="1.1"/>
<circle cx="667.7" cy="953.8" r="9.5" fill="#00964b" stroke="#000" stroke-width="1.1"/>
<circle cx="670.2" cy="955.8" r="9.5" fill="#00964b" stroke="#000" stroke-width="1.1"/>
<circle cx="674.4" cy="956.6" r="9.5" fill="#00964b" stroke="#000" stroke-width="1.1"/>
<circle cx="676.3" cy="961.2" r="9.5" fill="#00964b" stroke="#000" stroke-width="1.1"/>
<circle cx="679.8" cy="964.6" r="9.5" fill="#00964b" stroke="#000" stroke-width="1.1"/>
<circle cx="686.9" cy="975.5" r="9.5" fill="#00964b" stroke="#000" stroke-width="1.1"/>
<circle cx="695.5" cy="985.1" r="9.5" fill="#00964b" stroke="#000" stroke-width="1.1"/>
<circle cx="699.2" cy="989.6" r="9.5" fill="#00964b" stroke="#000" stroke-width="1.1"/>
<circle cx="704.6" cy="992.8" r="9.5" fill="#00964b" stroke="#000" stroke-width="1.1"/>
<circle cx="705.3" cy="994.4" r="9.5" fill="#00964b" stroke="#000" stroke-width="1.1"/>
<circle cx="707.6" cy="994.8" r="9.5" fill="#00964b" stroke="#000" stroke-width="1.1"/>
<circle cx="710.3" cy="997.4" r="9.5" fill="#00964b" stroke="#000" stroke-width="1.1"/>
<circle cx="714.6" cy="998.8" r="9.5" fill="#00964b" stroke="#000" stroke-width="1.1"/>
<circle cx="717.5" cy="1003.4" r="9.5" fill="#00964b" stroke="#000" stroke-width="1.1"/>
<circle cx="722" cy="1006.9" r="9.5" fill="#00964b" stroke="#000" stroke-width="1.1"/>
<circle cx="723.6" cy="1008.4" r="9.5" fill="#00964b" stroke="#000" stroke-width="1.1"/>
<circle cx="726.7" cy="1008.8" r="9.5" fill="#00964b" stroke="#000" stroke-width="1.1"/>
<circle cx="727.9" cy="1012.4" r="9.5" fill="#00964b" stroke="#000" stroke-width="1.1"/>
<circle cx="730.7" cy="1014.9" r="9.5" fill="#00964b" stroke="#000" stroke-width="1.1"/>
<circle cx="731.6" cy="1015.7" r="9.5" fill="#00964b" stroke="#000" stroke-width="1.1"/>
<circle cx="734.1" cy="1015.3" r="9.5" fill="#00964b" stroke="#000" stroke-width="1.1"/>
<path d="M110,2.7 L119,18.2 L101,18.2Z" fill="#0000cc"/>
<path d="M219.3,269.5 L228.3,285 L210.3,285Z" fill="#0000cc"/>
<path d="M348.6,512.5 L357.6,528 L339.6,528Z" fill="#0000cc"/>
<path d="M484.1,715.2 L493.1,730.7 L475.1,730.7Z" fill="#0000cc"/>
<path d="M550.5,800.9 L559.5,816.4 L541.5,816.4Z" fill="#0000cc"/>
<path d="M650,916.5 L659,932 L641,932Z" fill="#0000cc"/>
<path d="M662,929.6 L671,945.1 L653,945.1Z" fill="#0000cc"/>
<path d="M675,943.5 L684,959 L666,959Z" fill="#0000cc"/>
<path d="M688,957.3 L697,972.8 L679,972.8Z" fill="#0000cc"/>
<path d="M702,971.8 L711,987.3 L693,987.3Z" fill="#0000cc"/>
<path d="M716,986.2 L725,1001.7 L707,1001.7Z" fill="#0000cc"/>
<path d="M730,1000.3 L739,1015.8 L721,1015.8Z" fill="#0000cc"/>
<path d="M741,1011.3 L750,1026.8 L732,1026.8Z" fill="#0000cc"/>
<path d="M752,1022.1 L761,1037.6 L743,1037.6Z" fill="#0000cc"/>
<path d="M763,1032.9 L772,1048.4 L754,1048.4Z" fill="#0000cc"/>
<path d="M774,1043.5 L783,1059 L765,1059Z" fill="#0000cc"/>
<path d="M786,1054.9 L795,1070.4 L777,1070.4Z" fill="#0000cc"/>
<path d="M798,1066.2 L807,1081.7 L789,1081.7Z" fill="#0000cc"/>
<path d="M808,1075.5 L817,1091 L799,1091Z" fill="#0000cc"/>
<path d="M818,1084.7 L827,1100.2 L809,1100.2Z" fill="#0000cc"/>
<path d="M828,1093.8 L837,1109.3 L819,1109.3Z" fill="#0000cc"/>
<path d="M838,1102.9 L847,1118.4 L829,1118.4Z" fill="#0000cc"/>
<path d="M850,1113.6 L859,1129.1 L841,1129.1Z" fill="#0000cc"/>
<path d="M862,1124.2 L871,1139.7 L853,1139.7Z" fill="#0000cc"/>
<path d="M873,1133.9 L882,1149.4 L864,1149.4Z" fill="#0000cc"/>
<path d="M886,1145.1 L895,1160.6 L877,1160.6Z" fill="#0000cc"/>
<path d="M900,1157.1 L909,1172.6 L891,1172.6Z" fill="#0000cc"/>
<path d="M912,1167.2 L921,1182.7 L903,1182.7Z" fill="#0000cc"/>
<path d="M924,1177.3 L933,1192.8 L915,1192.8Z" fill="#0000cc"/>
<path d="M936,1187.2 L945,1202.7 L927,1202.7Z" fill="#0000cc"/>
<path d="M950,1198.6 L959,1214.1 L941,1214.1Z" fill="#0000cc"/>
<path d="M962,1208.3 L971,1223.8 L953,1223.8Z" fill="#0000cc"/>
<path d="M973,1217.1 L982,1232.6 L964,1232.6Z" fill="#0000cc"/>
<path d="M984,1225.9 L993,1241.4 L975,1241.4Z" fill="#0000cc"/>
<path d="M109,7.6 L111.9,15.9 L114.9,24.1 L117.8,32.2 L120.8,40.3 L123.7,48.3 L126.7,56.2 L129.6,64.1 L132.6,71.9 L135.5,79.7 L138.5,87.4 L141.4,95 L144.4,102.5 L147.3,110 L150.3,117.5 L153.2,124.9 L156.2,132.2 L159.1,139.5 L162.1,146.7 L165,153.9 L168,161 L170.9,168.1 L173.9,175.1 L176.8,182.1 L179.8,189 L182.7,195.9 L185.7,202.7 L188.6,209.5 L191.6,216.2 L194.5,222.9 L197.5,229.5 L200.4,236.1 L203.4,242.6 L206.3,249.1 L209.3,255.6 L212.2,262 L215.2,268.4 L218.1,274.7 L221.1,281 L224,287.3 L227,293.5 L229.9,299.6 L232.9,305.8 L235.8,311.9 L238.8,317.9 L241.7,324 L244.7,329.9 L247.6,335.9 L250.6,341.8 L253.5,347.7 L256.5,353.5 L259.4,359.3 L262.4,365.1 L265.3,370.8 L268.3,376.5 L271.2,382.2 L274.2,387.8 L277.1,393.4 L280.1,399 L283,404.5 L286,410.1 L288.9,415.5 L291.9,421 L294.8,426.4 L297.8,431.8 L300.7,437.1 L303.7,442.5 L306.6,447.8 L309.6,453 L312.5,458.3 L315.5,463.5 L318.4,468.7 L321.4,473.9 L324.3,479 L327.3,484.1 L330.2,489.2 L333.1,494.2 L336.1,499.2 L339,504.2 L342,509.2 L344.9,514.2 L347.9,519.1 L350.8,524 L353.8,528.9 L356.7,533.7 L359.7,538.5 L362.6,543.4 L365.6,548.1 L368.5,552.9 L371.5,557.6 L374.4,562.3 L377.4,567 L380.3,571.7 L383.3,576.3 L386.2,580.9 L389.2,585.5 L392.1,590.1 L395.1,594.7 L398,599.2 L401,603.7 L403.9,608.2 L406.9,612.7 L409.8,617.1 L412.8,621.6 L415.7,626 L418.7,630.4 L421.6,634.7 L424.6,639.1 L427.5,643.4 L430.5,647.7 L433.4,652 L436.4,656.3 L439.3,660.6 L442.3,664.8 L445.2,669 L448.2,673.2 L451.1,677.4 L454.1,681.6 L457,685.7 L460,689.8 L462.9,693.9 L465.9,698 L468.8,702.1 L471.8,706.2 L474.7,710.2 L477.7,714.2 L480.6,718.2 L483.6,722.2 L486.5,726.2 L489.5,730.2 L492.4,734.1 L495.4,738 L498.3,742 L501.3,745.8 L504.2,749.7 L507.2,753.6 L510.1,757.4 L513.1,761.3 L516,765.1 L519,768.9 L521.9,772.7 L524.9,776.5 L527.8,780.2 L530.8,784 L533.7,787.7 L536.7,791.4 L539.6,795.1 L542.6,798.8 L545.5,802.5 L548.5,806.1 L551.4,809.8 L554.3,813.4 L557.3,817 L560.2,820.6 L563.2,824.2 L566.1,827.8 L569.1,831.4 L572,834.9 L575,838.4 L577.9,842 L580.9,845.5 L583.8,849 L586.8,852.5 L589.7,855.9 L592.7,859.4 L595.6,862.9 L598.6,866.3 L601.5,869.7 L604.5,873.1 L607.4,876.5 L610.4,879.9 L613.3,883.3 L616.3,886.7 L619.2,890 L622.2,893.3 L625.1,896.7 L628.1,900 L631,903.3 L634,906.6 L636.9,909.9 L639.9,913.1 L642.8,916.4 L645.8,919.7 L648.7,922.9 L651.7,926.1 L654.6,929.3 L657.6,932.6 L660.5,935.7 L663.5,938.9 L666.4,942.1 L669.4,945.3 L672.3,948.4 L675.3,951.6 L678.2,954.7 L681.2,957.8 L684.1,960.9 L687.1,964 L690,967.1 L693,970.2 L695.9,973.3 L698.9,976.3 L701.8,979.4 L704.8,982.4 L707.7,985.5 L710.7,988.5 L713.6,991.5 L716.6,994.5 L719.5,997.5 L722.5,1000.5 L725.4,1003.5 L728.4,1006.4 L731.3,1009.4 L734.3,1012.3 L737.2,1015.3 L740.2,1018.2 L743.1,1021.1 L746.1,1024.1 L749,1027 L752,1029.9 L754.9,1032.7 L757.9,1035.6 L760.8,1038.5 L763.8,1041.3 L766.7,1044.2 L769.7,1047 L772.6,1049.9 L775.5,1052.7 L778.5,1055.5 L781.4,1058.3 L784.4,1061.1 L787.3,1063.9 L790.3,1066.7 L793.2,1069.5 L796.2,1072.2 L799.1,1075 L802.1,1077.8 L805,1080.5 L808,1083.2 L810.9,1086 L813.9,1088.7 L816.8,1091.4 L819.8,1094.1 L822.7,1096.8 L825.7,1099.5 L828.6,1102.2 L831.6,1104.8 L834.5,1107.5 L837.5,1110.2 L840.4,1112.8 L843.4,1115.5 L846.3,1118.1 L849.3,1120.7 L852.2,1123.4 L855.2,1126 L858.1,1128.6 L861.1,1131.2 L864,1133.8 L867,1136.4 L869.9,1138.9 L872.9,1141.5 L875.8,1144.1 L878.8,1146.6 L881.7,1149.2 L884.7,1151.7 L887.6,1154.3 L890.6,1156.8 L893.5,1159.3 L896.5,1161.8 L899.4,1164.3 L902.4,1166.8 L905.3,1169.3 L908.3,1171.8 L911.2,1174.3 L914.2,1176.8 L917.1,1179.3 L920.1,1181.7 L923,1184.2 L926,1186.6 L928.9,1189.1 L931.9,1191.5 L934.8,1193.9 L937.8,1196.4 L940.7,1198.8 L943.7,1201.2 L946.6,1203.6 L949.6,1206 L952.5,1208.4 L955.5,1210.8 L958.4,1213.2 L961.4,1215.6 L964.3,1217.9 L967.3,1220.3 L970.2,1222.7 L973.2,1225 L976.1,1227.3 L979.1,1229.7 L982,1232 L985,1234.4 L987.9,1236.7 L990.8,1239" fill="none" stroke="#000" stroke-width="2"/>
<g clip-path="url(#cm)">
<path d="M109,89 L111.2,94.6 L113.4,100.2 L115.7,105.7 L117.9,111.2 L120.1,116.7 L122.3,122.1 L124.6,127.5 L126.8,132.8 L129,138.2 L131.2,143.4 L133.5,148.7 L135.7,153.9 L137.9,159.1 L140.1,164.3 L142.4,169.4 L144.6,174.5 L146.8,179.6 L149,184.6 L151.3,189.6 L153.5,194.6 L155.7,199.6 L157.9,204.5 L160.2,209.4 L162.4,214.3 L164.6,219.1 L166.8,223.9 L169.1,228.7 L171.3,233.5 L173.5,238.2 L175.7,243 L178,247.6 L180.2,252.3 L182.4,256.9 L184.6,261.6 L186.9,266.2 L189.1,270.7 L191.3,275.3 L193.5,279.8 L195.8,284.3 L198,288.7 L200.2,293.2 L202.4,297.6 L204.7,302 L206.9,306.4 L209.1,310.8 L211.3,315.1 L213.6,319.4 L215.8,323.7 L218,328 L220.2,332.3 L222.5,336.5 L224.7,340.7 L226.9,344.9 L229.1,349.1 L231.4,353.2 L233.6,357.4 L235.8,361.5 L238,365.6 L240.3,369.6 L242.5,373.7 L244.7,377.7 L246.9,381.8 L249.2,385.8 L251.4,389.8 L253.6,393.7 L255.8,397.7 L258.1,401.6 L260.3,405.5 L262.5,409.4 L264.7,413.3 L267,417.1 L269.2,421 L271.4,424.8 L273.6,428.6 L275.9,432.4 L278.1,436.2 L280.3,440 L282.5,443.7 L284.8,447.4 L287,451.1 L289.2,454.8 L291.4,458.5 L293.7,462.2 L295.9,465.8 L298.1,469.5 L300.3,473.1 L302.6,476.7 L304.8,480.3 L307,483.9 L309.2,487.4 L311.5,491 L313.7,494.5 L315.9,498 L318.1,501.6 L320.4,505 L322.6,508.5 L324.8,512 L327,515.4 L329.3,518.9 L331.5,522.3 L333.7,525.7 L335.9,529.1 L338.2,532.5 L340.4,535.9 L342.6,539.2 L344.8,542.6 L347.1,545.9 L349.3,549.2 L351.5,552.5 L353.7,555.8 L356,559.1 L358.2,562.4 L360.4,565.6 L362.6,568.9 L364.9,572.1 L367.1,575.3 L369.3,578.5 L371.5,581.7 L373.8,584.9 L376,588.1 L378.2,591.3 L380.4,594.4 L382.7,597.6 L384.9,600.7 L387.1,603.8 L389.3,606.9 L391.6,610 L393.8,613.1 L396,616.2 L398.2,619.3 L400.5,622.3 L402.7,625.4 L404.9,628.4 L407.1,631.4 L409.4,634.4 L411.6,637.4 L413.8,640.4 L416,643.4 L418.3,646.4 L420.5,649.3 L422.7,652.3 L424.9,655.2 L427.2,658.2 L429.4,661.1 L431.6,664 L433.8,666.9 L436.1,669.8 L438.3,672.7 L440.5,675.5 L442.7,678.4 L445,681.3 L447.2,684.1 L449.4,686.9 L451.6,689.8 L453.9,692.6 L456.1,695.4 L458.3,698.2 L460.5,701 L462.8,703.8 L465,706.6 L467.2,709.3 L469.4,712.1 L471.7,714.8 L473.9,717.6 L476.1,720.3 L478.3,723 L480.6,725.7 L482.8,728.4 L485,731.1 L487.2,733.8 L489.5,736.5 L491.7,739.2 L493.9,741.8 L496.1,744.5 L498.4,747.1 L500.6,749.8 L502.8,752.4 L505,755 L507.3,757.7 L509.5,760.3 L511.7,762.9 L513.9,765.5 L516.2,768.1 L518.4,770.6 L520.6,773.2 L522.8,775.8 L525.1,778.3 L527.3,780.9 L529.5,783.4 L531.7,785.9 L534,788.5 L536.2,791 L538.4,793.5 L540.6,796 L542.9,798.5 L545.1,801 L547.3,803.5 L549.5,805.9 L551.8,808.4 L554,810.9 L556.2,813.3 L558.4,815.8 L560.7,818.2 L562.9,820.7 L565.1,823.1 L567.3,825.5 L569.6,827.9 L571.8,830.3 L574,832.7 L576.2,835.1 L578.5,837.5 L580.7,839.9 L582.9,842.3 L585.1,844.6 L587.4,847 L589.6,849.4 L591.8,851.7 L594,854.1 L596.2,856.4 L598.5,858.7 L600.7,861 L602.9,863.4 L605.1,865.7 L607.4,868 L609.6,870.3 L611.8,872.6 L614,874.9 L616.3,877.1 L618.5,879.4 L620.7,881.7 L622.9,884 L625.2,886.2 L627.4,888.5 L629.6,890.7 L631.8,893 L634.1,895.2 L636.3,897.4 L638.5,899.6 L640.7,901.9 L643,904.1 L645.2,906.3 L647.4,908.5 L649.6,910.7 L651.9,912.9 L654.1,915.1 L656.3,917.2 L658.5,919.4 L660.8,921.6 L663,923.7 L665.2,925.9 L667.4,928 L669.7,930.2 L671.9,932.3 L674.1,934.5 L676.3,936.6 L678.6,938.7 L680.8,940.9 L683,943 L685.2,945.1 L687.5,947.2 L689.7,949.3 L691.9,951.4 L694.1,953.5 L696.4,955.6 L698.6,957.6 L700.8,959.7 L703,961.8 L705.3,963.8 L707.5,965.9 L709.7,968 L711.9,970 L714.2,972.1 L716.4,974.1 L718.6,976.1 L720.8,978.2 L723.1,980.2 L725.3,982.2 L727.5,984.2 L729.7,986.3 L732,988.3 L734.2,990.3 L736.4,992.3 L738.6,994.3 L740.9,996.2 L743.1,998.2 L745.3,1000.2 L747.5,1002.2 L749.8,1004.2 L752,1006.1 L754.2,1008.1 L756.4,1010 L758.7,1012 L760.9,1014 L763.1,1015.9 L765.3,1017.8 L767.6,1019.8 L769.8,1021.7 L772,1023.6 L774.2,1025.6 L776.5,1027.5 L778.7,1029.4 L780.9,1031.3 L783.1,1033.2 L785.4,1035.1 L787.6,1037 L789.8,1038.9 L792,1040.8 L794.3,1042.7 L796.5,1044.6 L798.7,1046.4 L800.9,1048.3 L803.2,1050.2 L805.4,1052 L807.6,1053.9 L809.8,1055.8 L812.1,1057.6 L814.3,1059.5 L816.5,1061.3 L818.7,1063.2 L821,1065 L823.2,1066.8 L825.4,1068.7 L827.6,1070.5 L829.9,1072.3 L832.1,1074.1 L834.3,1075.9 L836.5,1077.8 L838.8,1079.6 L841,1081.4 L843.2,1083.2 L845.4,1085 L847.7,1086.8 L849.9,1088.5 L852.1,1090.3 L854.3,1092.1 L856.6,1093.9 L858.8,1095.7 L861,1097.4 L863.2,1099.2 L865.5,1101 L867.7,1102.7 L869.9,1104.5 L872.1,1106.2 L874.4,1108 L876.6,1109.7 L878.8,1111.5 L881,1113.2 L883.3,1114.9 L885.5,1116.7 L887.7,1118.4 L889.9,1120.1 L892.2,1121.8 L894.4,1123.5 L896.6,1125.3 L898.8,1127 L901.1,1128.7 L903.3,1130.4 L905.5,1132.1 L907.7,1133.8 L910,1135.5 L912.2,1137.2 L914.4,1138.9 L916.6,1140.5 L918.9,1142.2 L921.1,1143.9 L923.3,1145.6 L925.5,1147.2 L927.8,1148.9 L930,1150.6 L932.2,1152.2 L934.4,1153.9 L936.7,1155.5 L938.9,1157.2 L941.1,1158.8 L943.3,1160.5 L945.6,1162.1 L947.8,1163.8 L950,1165.4 L952.2,1167 L954.5,1168.7 L956.7,1170.3 L958.9,1171.9 L961.1,1173.5 L963.4,1175.1 L965.6,1176.8 L967.8,1178.4 L970,1180 L972.3,1181.6 L974.5,1183.2 L976.7,1184.8 L978.9,1186.4 L981.2,1188 L983.4,1189.6 L985.6,1191.2 L987.8,1192.7 L990.1,1194.3 L992.3,1195.9 L994.5,1197.5 L996.7,1199" fill="none" stroke="#0a960a" stroke-width="1.3"/>
</g>
<path d="M158.9,174.9 H181.9 M170.4,163.4 V186.4" stroke="#ff0000" stroke-width="2" fill="none"/>
<path d="M189.8,241.9 H212.8 M201.3,230.4 V253.4" stroke="#ff0000" stroke-width="2" fill="none"/>
<path d="M215.9,267 H238.9 M227.4,255.5 V278.5" stroke="#ff0000" stroke-width="2" fill="none"/>
<path d="M236,334.8 H259 M247.5,323.3 V346.3" stroke="#ff0000" stroke-width="2" fill="none"/>
<path d="M268.1,366.9 H291.1 M279.6,355.4 V378.4" stroke="#ff0000" stroke-width="2" fill="none"/>
<path d="M296.9,442.9 H319.9 M308.4,431.4 V454.4" stroke="#ff0000" stroke-width="2" fill="none"/>
<path d="M318,465.6 H341 M329.5,454.1 V477.1" stroke="#ff0000" stroke-width="2" fill="none"/>
<path d="M353.4,535 H376.4 M364.9,523.5 V546.5" stroke="#ff0000" stroke-width="2" fill="none"/>
<path d="M400.4,585.1 H423.4 M411.9,573.6 V596.6" stroke="#ff0000" stroke-width="2" fill="none"/>
<path d="M392.6,593.1 H415.6 M404.1,581.6 V604.6" stroke="#ff0000" stroke-width="2" fill="none"/>
<path d="M394.4,614 H417.4 M405.9,602.5 V625.5" stroke="#ff0000" stroke-width="2" fill="none"/>
<path d="M417.7,621.8 H440.7 M429.2,610.3 V633.3" stroke="#ff0000" stroke-width="2" fill="none"/>
<path d="M425.6,631.5 H448.6 M437.1,620 V643" stroke="#ff0000" stroke-width="2" fill="none"/>
<path d="M417.7,648.8 H440.7 M429.2,637.3 V660.3" stroke="#ff0000" stroke-width="2" fill="none"/>
<path d="M425.6,654.4 H448.6 M437.1,642.9 V665.9" stroke="#ff0000" stroke-width="2" fill="none"/>
<rect x="396.3" y="41" width="545.5" height="335.9" fill="#fff"/>
<rect x="396.3" y="41" width="545.5" height="335.9" fill="none" stroke="#000" stroke-width="2"/>
<path d="M396.3,378.9V362.5M396.3,39V55.4M403.6,378.9V368.9M403.6,39V49M410.8,378.9V368.9M410.8,39V49M418.1,378.9V368.9M418.1,39V49M425.4,378.9V368.9M425.4,39V49M432.7,378.9V366.9M432.7,39V51M439.9,378.9V368.9M439.9,39V49M447.2,378.9V368.9M447.2,39V49M454.5,378.9V368.9M454.5,39V49M461.8,378.9V368.9M461.8,39V49M469,378.9V366.9M469,39V51M476.3,378.9V368.9M476.3,39V49M483.6,378.9V368.9M483.6,39V49M490.9,378.9V368.9M490.9,39V49M498.1,378.9V368.9M498.1,39V49M505.4,378.9V362.5M505.4,39V55.4M512.7,378.9V368.9M512.7,39V49M519.9,378.9V368.9M519.9,39V49M527.2,378.9V368.9M527.2,39V49M534.5,378.9V368.9M534.5,39V49M541.8,378.9V366.9M541.8,39V51M549,378.9V368.9M549,39V49M556.3,378.9V368.9M556.3,39V49M563.6,378.9V368.9M563.6,39V49M570.9,378.9V368.9M570.9,39V49M578.1,378.9V366.9M578.1,39V51M585.4,378.9V368.9M585.4,39V49M592.7,378.9V368.9M592.7,39V49M600,378.9V368.9M600,39V49M607.2,378.9V368.9M607.2,39V49M614.5,378.9V362.5M614.5,39V55.4M621.8,378.9V368.9M621.8,39V49M629,378.9V368.9M629,39V49M636.3,378.9V368.9M636.3,39V49M643.6,378.9V368.9M643.6,39V49M650.9,378.9V366.9M650.9,39V51M658.1,378.9V368.9M658.1,39V49M665.4,378.9V368.9M665.4,39V49M672.7,378.9V368.9M672.7,39V49M680,378.9V368.9M680,39V49M687.2,378.9V366.9M687.2,39V51M694.5,378.9V368.9M694.5,39V49M701.8,378.9V368.9M701.8,39V49M709.1,378.9V368.9M709.1,39V49M716.3,378.9V368.9M716.3,39V49M723.6,378.9V362.5M723.6,39V55.4M730.9,378.9V368.9M730.9,39V49M738.1,378.9V368.9M738.1,39V49M745.4,378.9V368.9M745.4,39V49M752.7,378.9V368.9M752.7,39V49M760,378.9V366.9M760,39V51M767.2,378.9V368.9M767.2,39V49M774.5,378.9V368.9M774.5,39V49M781.8,378.9V368.9M781.8,39V49M789.1,378.9V368.9M789.1,39V49M796.3,378.9V366.9M796.3,39V51M803.6,378.9V368.9M803.6,39V49M810.9,378.9V368.9M810.9,39V49M818.2,378.9V368.9M818.2,39V49M825.4,378.9V368.9M825.4,39V49M832.7,378.9V362.5M832.7,39V55.4M840,378.9V368.9M840,39V49M847.2,378.9V368.9M847.2,39V49M854.5,378.9V368.9M854.5,39V49M861.8,378.9V368.9M861.8,39V49M869.1,378.9V366.9M869.1,39V51M876.3,378.9V368.9M876.3,39V49M883.6,378.9V368.9M883.6,39V49M890.9,378.9V368.9M890.9,39V49M898.2,378.9V368.9M898.2,39V49M905.4,378.9V366.9M905.4,39V51M912.7,378.9V368.9M912.7,39V49M920,378.9V368.9M920,39V49M927.3,378.9V368.9M927.3,39V49M934.5,378.9V368.9M934.5,39V49M941.8,378.9V362.5M941.8,39V55.4M394.3,359.5H405.1M943.8,359.5H933M394.3,339.7H410.8M943.8,339.7H927.3M394.3,319.9H405.1M943.8,319.9H933M394.3,300.1H405.1M943.8,300.1H933M394.3,280.3H405.1M943.8,280.3H933M394.3,260.5H405.1M943.8,260.5H933M394.3,240.7H410.8M943.8,240.7H927.3M394.3,220.8H405.1M943.8,220.8H933M394.3,201H405.1M943.8,201H933M394.3,181.2H405.1M943.8,181.2H933M394.3,161.4H405.1M943.8,161.4H933M394.3,141.6H410.8M943.8,141.6H927.3M394.3,121.8H405.1M943.8,121.8H933M394.3,102H405.1M943.8,102H933M394.3,82.2H405.1M943.8,82.2H933M394.3,62.4H405.1M943.8,62.4H933M394.3,42.6H410.8M943.8,42.6H927.3" stroke="#000" stroke-width="2" fill="none"/>
<text x="396.3" y="419.5" font-size="38" text-anchor="middle" font-weight="normal">0</text>
<text x="505.4" y="419.5" font-size="38" text-anchor="middle" font-weight="normal">30</text>
<text x="614.5" y="419.5" font-size="38" text-anchor="middle" font-weight="normal">60</text>
<text x="723.6" y="419.5" font-size="38" text-anchor="middle" font-weight="normal">90</text>
<text x="832.7" y="419.5" font-size="38" text-anchor="middle" font-weight="normal">120</text>
<text x="941.8" y="419.5" font-size="38" text-anchor="middle" font-weight="normal">150</text>
<text x="388" y="353.1" font-size="38" text-anchor="end" font-weight="normal">1.580</text>
<text x="388" y="254.1" font-size="38" text-anchor="end" font-weight="normal">1.585</text>
<text x="388" y="155" font-size="38" text-anchor="end" font-weight="normal">1.590</text>
<text x="388" y="56" font-size="38" text-anchor="end" font-weight="normal">1.595</text>
<text x="547.5" y="469" font-size="38" text-anchor="start" font-weight="normal" textLength="269.1" lengthAdjust="spacingAndGlyphs">Pressure (GPa)</text>
<text transform="translate(278,223.8) rotate(-90)" x="-1.53" font-size="38" textLength="47.99" lengthAdjust="spacingAndGlyphs">c/a</text>
<circle cx="396" cy="288.6" r="6.5" fill="#00964b" stroke="#000" stroke-width="1"/>
<circle cx="398.5" cy="292.1" r="6.5" fill="#00964b" stroke="#000" stroke-width="1"/>
<circle cx="402" cy="287.6" r="6.5" fill="#00964b" stroke="#000" stroke-width="1"/>
<circle cx="404.5" cy="291.1" r="6.5" fill="#00964b" stroke="#000" stroke-width="1"/>
<circle cx="408" cy="286.6" r="6.5" fill="#00964b" stroke="#000" stroke-width="1"/>
<circle cx="410.5" cy="290.1" r="6.5" fill="#00964b" stroke="#000" stroke-width="1"/>
<circle cx="414.1" cy="284.6" r="6.5" fill="#00964b" stroke="#000" stroke-width="1"/>
<circle cx="416.6" cy="288.1" r="6.5" fill="#00964b" stroke="#000" stroke-width="1"/>
<circle cx="419.1" cy="280.6" r="6.5" fill="#00964b" stroke="#000" stroke-width="1"/>
<circle cx="421.6" cy="284.1" r="6.5" fill="#00964b" stroke="#000" stroke-width="1"/>
<circle cx="422.2" cy="276.6" r="6.5" fill="#00964b" stroke="#000" stroke-width="1"/>
<circle cx="424.7" cy="280.1" r="6.5" fill="#00964b" stroke="#000" stroke-width="1"/>
<circle cx="426.2" cy="272.6" r="6.5" fill="#00964b" stroke="#000" stroke-width="1"/>
<circle cx="428.7" cy="276.1" r="6.5" fill="#00964b" stroke="#000" stroke-width="1"/>
<circle cx="430.2" cy="268.5" r="6.5" fill="#00964b" stroke="#000" stroke-width="1"/>
<circle cx="432.7" cy="272" r="6.5" fill="#00964b" stroke="#000" stroke-width="1"/>
<circle cx="433.2" cy="263.5" r="6.5" fill="#00964b" stroke="#000" stroke-width="1"/>
<circle cx="435.7" cy="267" r="6.5" fill="#00964b" stroke="#000" stroke-width="1"/>
<circle cx="437.2" cy="258.5" r="6.5" fill="#00964b" stroke="#000" stroke-width="1"/>
<circle cx="439.7" cy="262" r="6.5" fill="#00964b" stroke="#000" stroke-width="1"/>
<circle cx="441.3" cy="256.5" r="6.5" fill="#00964b" stroke="#000" stroke-width="1"/>
<circle cx="443.8" cy="260" r="6.5" fill="#00964b" stroke="#000" stroke-width="1"/>
<circle cx="446.3" cy="255.5" r="6.5" fill="#00964b" stroke="#000" stroke-width="1"/>
<circle cx="448.8" cy="259" r="6.5" fill="#00964b" stroke="#000" stroke-width="1"/>
<circle cx="450.3" cy="254.5" r="6.5" fill="#00964b" stroke="#000" stroke-width="1"/>
<circle cx="452.8" cy="258" r="6.5" fill="#00964b" stroke="#000" stroke-width="1"/>
<circle cx="454.3" cy="252.5" r="6.5" fill="#00964b" stroke="#000" stroke-width="1"/>
<circle cx="456.8" cy="256" r="6.5" fill="#00964b" stroke="#000" stroke-width="1"/>
<circle cx="459.3" cy="250.5" r="6.5" fill="#00964b" stroke="#000" stroke-width="1"/>
<circle cx="461.8" cy="254" r="6.5" fill="#00964b" stroke="#000" stroke-width="1"/>
<circle cx="464.4" cy="248.4" r="6.5" fill="#00964b" stroke="#000" stroke-width="1"/>
<circle cx="466.9" cy="251.9" r="6.5" fill="#00964b" stroke="#000" stroke-width="1"/>
<circle cx="469.4" cy="246.4" r="6.5" fill="#00964b" stroke="#000" stroke-width="1"/>
<circle cx="471.9" cy="249.9" r="6.5" fill="#00964b" stroke="#000" stroke-width="1"/>
<circle cx="474.4" cy="244.4" r="6.5" fill="#00964b" stroke="#000" stroke-width="1"/>
<circle cx="476.9" cy="247.9" r="6.5" fill="#00964b" stroke="#000" stroke-width="1"/>
<circle cx="478.4" cy="242.4" r="6.5" fill="#00964b" stroke="#000" stroke-width="1"/>
<circle cx="480.9" cy="245.9" r="6.5" fill="#00964b" stroke="#000" stroke-width="1"/>
<circle cx="483.5" cy="241.4" r="6.5" fill="#00964b" stroke="#000" stroke-width="1"/>
<circle cx="486" cy="244.9" r="6.5" fill="#00964b" stroke="#000" stroke-width="1"/>
<circle cx="488.5" cy="240.4" r="6.5" fill="#00964b" stroke="#000" stroke-width="1"/>
<circle cx="491" cy="243.9" r="6.5" fill="#00964b" stroke="#000" stroke-width="1"/>
<circle cx="492.5" cy="238.4" r="6.5" fill="#00964b" stroke="#000" stroke-width="1"/>
<circle cx="495" cy="241.9" r="6.5" fill="#00964b" stroke="#000" stroke-width="1"/>
<circle cx="496.5" cy="234.4" r="6.5" fill="#00964b" stroke="#000" stroke-width="1"/>
<circle cx="499" cy="237.9" r="6.5" fill="#00964b" stroke="#000" stroke-width="1"/>
<circle cx="500.6" cy="232.4" r="6.5" fill="#00964b" stroke="#000" stroke-width="1"/>
<circle cx="505.6" cy="234.4" r="6.5" fill="#00964b" stroke="#000" stroke-width="1"/>
<circle cx="510.6" cy="232.4" r="6.5" fill="#00964b" stroke="#000" stroke-width="1"/>
<circle cx="514.6" cy="229.3" r="6.5" fill="#00964b" stroke="#000" stroke-width="1"/>
<circle cx="520.7" cy="224.3" r="6.5" fill="#00964b" stroke="#000" stroke-width="1"/>
<circle cx="524.7" cy="222.3" r="6.5" fill="#00964b" stroke="#000" stroke-width="1"/>
<circle cx="528.7" cy="226.3" r="6.5" fill="#00964b" stroke="#000" stroke-width="1"/>
<circle cx="532.7" cy="228.3" r="6.5" fill="#00964b" stroke="#000" stroke-width="1"/>
<circle cx="536.7" cy="227.3" r="6.5" fill="#00964b" stroke="#000" stroke-width="1"/>
<circle cx="540.8" cy="226.3" r="6.5" fill="#00964b" stroke="#000" stroke-width="1"/>
<circle cx="544.8" cy="228.3" r="6.5" fill="#00964b" stroke="#000" stroke-width="1"/>
<circle cx="548.8" cy="236.4" r="6.5" fill="#00964b" stroke="#000" stroke-width="1"/>
<circle cx="550.8" cy="238.4" r="6.5" fill="#00964b" stroke="#000" stroke-width="1"/>
<circle cx="554.8" cy="226.3" r="6.5" fill="#00964b" stroke="#000" stroke-width="1"/>
<circle cx="560.9" cy="224.3" r="6.5" fill="#00964b" stroke="#000" stroke-width="1"/>
<circle cx="566.9" cy="222.3" r="6.5" fill="#00964b" stroke="#000" stroke-width="1"/>
<circle cx="570.9" cy="220.3" r="6.5" fill="#00964b" stroke="#000" stroke-width="1"/>
<circle cx="572" cy="222.6" r="6.5" fill="#00964b" stroke="#000" stroke-width="1"/>
<circle cx="570.9" cy="204.2" r="6.5" fill="#00964b" stroke="#000" stroke-width="1"/>
<circle cx="574.9" cy="202.2" r="6.5" fill="#00964b" stroke="#000" stroke-width="1"/>
<circle cx="578" cy="198.5" r="6.5" fill="#00964b" stroke="#000" stroke-width="1"/>
<circle cx="581" cy="198.2" r="6.5" fill="#00964b" stroke="#000" stroke-width="1"/>
<circle cx="584" cy="194.5" r="6.5" fill="#00964b" stroke="#000" stroke-width="1"/>
<circle cx="586" cy="192.2" r="6.5" fill="#00964b" stroke="#000" stroke-width="1"/>
<circle cx="590" cy="190.5" r="6.5" fill="#00964b" stroke="#000" stroke-width="1"/>
<circle cx="596.1" cy="188.4" r="6.5" fill="#00964b" stroke="#000" stroke-width="1"/>
<circle cx="602.2" cy="186.4" r="6.5" fill="#00964b" stroke="#000" stroke-width="1"/>
<circle cx="608.2" cy="184.4" r="6.5" fill="#00964b" stroke="#000" stroke-width="1"/>
<circle cx="614.2" cy="183.4" r="6.5" fill="#00964b" stroke="#000" stroke-width="1"/>
<circle cx="620.3" cy="184.4" r="6.5" fill="#00964b" stroke="#000" stroke-width="1"/>
<circle cx="626" cy="185" r="6.5" fill="#00964b" stroke="#000" stroke-width="1"/>
<circle cx="632" cy="187" r="6.5" fill="#00964b" stroke="#000" stroke-width="1"/>
<circle cx="638" cy="190" r="6.5" fill="#00964b" stroke="#000" stroke-width="1"/>
<circle cx="644.6" cy="192.7" r="6.5" fill="#00964b" stroke="#000" stroke-width="1"/>
<circle cx="650.4" cy="182.4" r="6.5" fill="#00964b" stroke="#000" stroke-width="1"/>
<circle cx="656" cy="184.9" r="6.5" fill="#00964b" stroke="#000" stroke-width="1"/>
<circle cx="658.4" cy="182.4" r="6.5" fill="#00964b" stroke="#000" stroke-width="1"/>
<circle cx="664.5" cy="180.4" r="6.5" fill="#00964b" stroke="#000" stroke-width="1"/>
<circle cx="666" cy="180.8" r="6.5" fill="#00964b" stroke="#000" stroke-width="1"/>
<circle cx="670.5" cy="180.4" r="6.5" fill="#00964b" stroke="#000" stroke-width="1"/>
<circle cx="676.5" cy="184.4" r="6.5" fill="#00964b" stroke="#000" stroke-width="1"/>
<circle cx="677" cy="186.5" r="6.5" fill="#00964b" stroke="#000" stroke-width="1"/>
<circle cx="682.6" cy="188.4" r="6.5" fill="#00964b" stroke="#000" stroke-width="1"/>
<circle cx="686.6" cy="185" r="6.5" fill="#00964b" stroke="#000" stroke-width="1"/>
<circle cx="690.6" cy="180.4" r="6.5" fill="#00964b" stroke="#000" stroke-width="1"/>
<circle cx="694.6" cy="184.4" r="6.5" fill="#00964b" stroke="#000" stroke-width="1"/>
<circle cx="700.7" cy="186.4" r="6.5" fill="#00964b" stroke="#000" stroke-width="1"/>
<circle cx="704.3" cy="184.9" r="6.5" fill="#00964b" stroke="#000" stroke-width="1"/>
<circle cx="706.7" cy="186.4" r="6.5" fill="#00964b" stroke="#000" stroke-width="1"/>
<circle cx="714.7" cy="182.4" r="6.5" fill="#00964b" stroke="#000" stroke-width="1"/>
<circle cx="714.5" cy="188.5" r="6.5" fill="#00964b" stroke="#000" stroke-width="1"/>
<circle cx="722.8" cy="186.4" r="6.5" fill="#00964b" stroke="#000" stroke-width="1"/>
<circle cx="728.8" cy="185.4" r="6.5" fill="#00964b" stroke="#000" stroke-width="1"/>
<circle cx="734.8" cy="185.4" r="6.5" fill="#00964b" stroke="#000" stroke-width="1"/>
<circle cx="740.9" cy="184.4" r="6.5" fill="#00964b" stroke="#000" stroke-width="1"/>
<circle cx="743" cy="183.2" r="6.5" fill="#00964b" stroke="#000" stroke-width="1"/>
<circle cx="751" cy="183.2" r="6.5" fill="#00964b" stroke="#000" stroke-width="1"/>
<circle cx="759" cy="170.4" r="6.5" fill="#00964b" stroke="#000" stroke-width="1"/>
<circle cx="765" cy="166.3" r="6.5" fill="#00964b" stroke="#000" stroke-width="1"/>
<circle cx="769.3" cy="166.3" r="6.5" fill="#00964b" stroke="#000" stroke-width="1"/>
<circle cx="776.6" cy="164" r="6.5" fill="#00964b" stroke="#000" stroke-width="1"/>
<circle cx="781.5" cy="167.3" r="6.5" fill="#00964b" stroke="#000" stroke-width="1"/>
<path d="M397,283.7 L405,297.7 L389,297.7Z" fill="#0000cc"/>
<path d="M464,236.4 L472,250.4 L456,250.4Z" fill="#0000cc"/>
<path d="M544.4,191.2 L552.4,205.2 L536.4,205.2Z" fill="#0000cc"/>
<path d="M628.3,169.4 L636.3,183.4 L620.3,183.4Z" fill="#0000cc"/>
<path d="M668.7,151.7 L676.7,165.7 L660.7,165.7Z" fill="#0000cc"/>
<path d="M724,133.4 L729,142.9 L719,142.9Z" fill="#0000cc" stroke="#000" stroke-width="0.6"/>
<path d="M726.6,141.8 L731.6,151.3 L721.6,151.3Z" fill="#0000cc" stroke="#000" stroke-width="0.6"/>
<path d="M729.2,134.6 L734.2,144.1 L724.2,144.1Z" fill="#0000cc" stroke="#000" stroke-width="0.6"/>
<path d="M731.8,141.2 L736.8,150.7 L726.8,150.7Z" fill="#0000cc" stroke="#000" stroke-width="0.6"/>
<path d="M734.4,131.6 L739.4,141.1 L729.4,141.1Z" fill="#0000cc" stroke="#000" stroke-width="0.6"/>
<path d="M737,136.2 L742,145.7 L732,145.7Z" fill="#0000cc" stroke="#000" stroke-width="0.6"/>
<path d="M739.6,127.3 L744.6,136.8 L734.6,136.8Z" fill="#0000cc" stroke="#000" stroke-width="0.6"/>
<path d="M742.2,135.7 L747.2,145.2 L737.2,145.2Z" fill="#0000cc" stroke="#000" stroke-width="0.6"/>
<path d="M744.8,129 L749.8,138.5 L739.8,138.5Z" fill="#0000cc" stroke="#000" stroke-width="0.6"/>
<path d="M747.4,135.9 L752.4,145.4 L742.4,145.4Z" fill="#0000cc" stroke="#000" stroke-width="0.6"/>
<path d="M750,124.8 L755,134.3 L745,134.3Z" fill="#0000cc" stroke="#000" stroke-width="0.6"/>
<path d="M752.6,130.3 L757.6,139.8 L747.6,139.8Z" fill="#0000cc" stroke="#000" stroke-width="0.6"/>
<path d="M755.2,123.4 L760.2,132.9 L750.2,132.9Z" fill="#0000cc" stroke="#000" stroke-width="0.6"/>
<path d="M757.8,130.8 L762.8,140.3 L752.8,140.3Z" fill="#0000cc" stroke="#000" stroke-width="0.6"/>
<path d="M760.4,125.3 L765.4,134.8 L755.4,134.8Z" fill="#0000cc" stroke="#000" stroke-width="0.6"/>
<path d="M763,131.3 L768,140.8 L758,140.8Z" fill="#0000cc" stroke="#000" stroke-width="0.6"/>
<path d="M765.6,119.9 L770.6,129.4 L760.6,129.4Z" fill="#0000cc" stroke="#000" stroke-width="0.6"/>
<path d="M768.2,125.6 L773.2,135.1 L763.2,135.1Z" fill="#0000cc" stroke="#000" stroke-width="0.6"/>
<path d="M770.8,117.7 L775.8,127.2 L765.8,127.2Z" fill="#0000cc" stroke="#000" stroke-width="0.6"/>
<path d="M773.4,126.3 L778.4,135.8 L768.4,135.8Z" fill="#0000cc" stroke="#000" stroke-width="0.6"/>
<path d="M776,119.7 L781,129.2 L771,129.2Z" fill="#0000cc" stroke="#000" stroke-width="0.6"/>
<path d="M778.6,126.8 L783.6,136.3 L773.6,136.3Z" fill="#0000cc" stroke="#000" stroke-width="0.6"/>
<path d="M781.2,116 L786.2,125.5 L776.2,125.5Z" fill="#0000cc" stroke="#000" stroke-width="0.6"/>
<path d="M783.8,120.2 L788.8,129.7 L778.8,129.7Z" fill="#0000cc" stroke="#000" stroke-width="0.6"/>
<path d="M786.4,113.8 L791.4,123.3 L781.4,123.3Z" fill="#0000cc" stroke="#000" stroke-width="0.6"/>
<path d="M789,122.5 L794,132 L784,132Z" fill="#0000cc" stroke="#000" stroke-width="0.6"/>
<path d="M791.6,115.3 L796.6,124.8 L786.6,124.8Z" fill="#0000cc" stroke="#000" stroke-width="0.6"/>
<path d="M794.2,121.5 L799.2,131 L789.2,131Z" fill="#0000cc" stroke="#000" stroke-width="0.6"/>
<path d="M796.8,111.6 L801.8,121.1 L791.8,121.1Z" fill="#0000cc" stroke="#000" stroke-width="0.6"/>
<path d="M799.4,117.5 L804.4,127 L794.4,127Z" fill="#0000cc" stroke="#000" stroke-width="0.6"/>
<path d="M802,110.4 L807,119.9 L797,119.9Z" fill="#0000cc" stroke="#000" stroke-width="0.6"/>
<path d="M804.6,118.1 L809.6,127.6 L799.6,127.6Z" fill="#0000cc" stroke="#000" stroke-width="0.6"/>
<path d="M807.2,112.3 L812.2,121.8 L802.2,121.8Z" fill="#0000cc" stroke="#000" stroke-width="0.6"/>
<path d="M809.8,118.5 L814.8,128 L804.8,128Z" fill="#0000cc" stroke="#000" stroke-width="0.6"/>
<path d="M812.4,107.4 L817.4,116.9 L807.4,116.9Z" fill="#0000cc" stroke="#000" stroke-width="0.6"/>
<path d="M815,111.6 L820,121.1 L810,121.1Z" fill="#0000cc" stroke="#000" stroke-width="0.6"/>
<path d="M817.6,105.6 L822.6,115.1 L812.6,115.1Z" fill="#0000cc" stroke="#000" stroke-width="0.6"/>
<path d="M820.2,113.7 L825.2,123.2 L815.2,123.2Z" fill="#0000cc" stroke="#000" stroke-width="0.6"/>
<path d="M822.8,107.1 L827.8,116.6 L817.8,116.6Z" fill="#0000cc" stroke="#000" stroke-width="0.6"/>
<path d="M825.4,113.2 L830.4,122.7 L820.4,122.7Z" fill="#0000cc" stroke="#000" stroke-width="0.6"/>
<path d="M828,103.4 L833,112.9 L823,112.9Z" fill="#0000cc" stroke="#000" stroke-width="0.6"/>
<path d="M830.6,108.3 L835.6,117.8 L825.6,117.8Z" fill="#0000cc" stroke="#000" stroke-width="0.6"/>
<path d="M833.2,100.8 L838.2,110.3 L828.2,110.3Z" fill="#0000cc" stroke="#000" stroke-width="0.6"/>
<path d="M835.8,109.2 L840.8,118.7 L830.8,118.7Z" fill="#0000cc" stroke="#000" stroke-width="0.6"/>
<path d="M838.4,103.3 L843.4,112.8 L833.4,112.8Z" fill="#0000cc" stroke="#000" stroke-width="0.6"/>
<path d="M841,110.5 L846,120 L836,120Z" fill="#0000cc" stroke="#000" stroke-width="0.6"/>
<path d="M843.6,99.8 L848.6,109.3 L838.6,109.3Z" fill="#0000cc" stroke="#000" stroke-width="0.6"/>
<path d="M846.2,104 L851.2,113.5 L841.2,113.5Z" fill="#0000cc" stroke="#000" stroke-width="0.6"/>
<path d="M848.8,96.8 L853.8,106.3 L843.8,106.3Z" fill="#0000cc" stroke="#000" stroke-width="0.6"/>
<path d="M851.4,105.6 L856.4,115.1 L846.4,115.1Z" fill="#0000cc" stroke="#000" stroke-width="0.6"/>
<path d="M854,98.9 L859,108.4 L849,108.4Z" fill="#0000cc" stroke="#000" stroke-width="0.6"/>
<path d="M856.6,105.3 L861.6,114.8 L851.6,114.8Z" fill="#0000cc" stroke="#000" stroke-width="0.6"/>
<path d="M859.2,95.8 L864.2,105.3 L854.2,105.3Z" fill="#0000cc" stroke="#000" stroke-width="0.6"/>
<path d="M861.8,99.8 L866.8,109.3 L856.8,109.3Z" fill="#0000cc" stroke="#000" stroke-width="0.6"/>
<path d="M864.4,93.4 L869.4,102.9 L859.4,102.9Z" fill="#0000cc" stroke="#000" stroke-width="0.6"/>
<path d="M867,101.5 L872,111 L862,111Z" fill="#0000cc" stroke="#000" stroke-width="0.6"/>
<path d="M869.6,96.1 L874.6,105.6 L864.6,105.6Z" fill="#0000cc" stroke="#000" stroke-width="0.6"/>
<path d="M872.2,102.5 L877.2,112 L867.2,112Z" fill="#0000cc" stroke="#000" stroke-width="0.6"/>
<path d="M874.8,92.3 L879.8,101.8 L869.8,101.8Z" fill="#0000cc" stroke="#000" stroke-width="0.6"/>
<path d="M877.4,97.2 L882.4,106.7 L872.4,106.7Z" fill="#0000cc" stroke="#000" stroke-width="0.6"/>
<path d="M880,89.4 L885,98.9 L875,98.9Z" fill="#0000cc" stroke="#000" stroke-width="0.6"/>
<path d="M882.6,98.3 L887.6,107.8 L877.6,107.8Z" fill="#0000cc" stroke="#000" stroke-width="0.6"/>
<path d="M885.2,91.6 L890.2,101.1 L880.2,101.1Z" fill="#0000cc" stroke="#000" stroke-width="0.6"/>
<path d="M887.8,98.4 L892.8,107.9 L882.8,107.9Z" fill="#0000cc" stroke="#000" stroke-width="0.6"/>
<path d="M890.4,87.8 L895.4,97.3 L885.4,97.3Z" fill="#0000cc" stroke="#000" stroke-width="0.6"/>
<path d="M893,92.9 L898,102.4 L888,102.4Z" fill="#0000cc" stroke="#000" stroke-width="0.6"/>
<path d="M895.6,85 L900.6,94.5 L890.6,94.5Z" fill="#0000cc" stroke="#000" stroke-width="0.6"/>
<path d="M898.2,93.7 L903.2,103.2 L893.2,103.2Z" fill="#0000cc" stroke="#000" stroke-width="0.6"/>
<path d="M900.8,89.1 L905.8,98.6 L895.8,98.6Z" fill="#0000cc" stroke="#000" stroke-width="0.6"/>
<path d="M903.4,94 L908.4,103.5 L898.4,103.5Z" fill="#0000cc" stroke="#000" stroke-width="0.6"/>
<path d="M906,84.9 L911,94.4 L901,94.4Z" fill="#0000cc" stroke="#000" stroke-width="0.6"/>
<path d="M908.6,89.8 L913.6,99.3 L903.6,99.3Z" fill="#0000cc" stroke="#000" stroke-width="0.6"/>
<path d="M911.2,82.9 L916.2,92.4 L906.2,92.4Z" fill="#0000cc" stroke="#000" stroke-width="0.6"/>
<path d="M913.8,90.8 L918.8,100.3 L908.8,100.3Z" fill="#0000cc" stroke="#000" stroke-width="0.6"/>
<path d="M916.4,85 L921.4,94.5 L911.4,94.5Z" fill="#0000cc" stroke="#000" stroke-width="0.6"/>
<path d="M919,90.4 L924,99.9 L914,99.9Z" fill="#0000cc" stroke="#000" stroke-width="0.6"/>
<path d="M921.6,80.4 L926.6,89.9 L916.6,89.9Z" fill="#0000cc" stroke="#000" stroke-width="0.6"/>
<path d="M924.2,85.6 L929.2,95.1 L919.2,95.1Z" fill="#0000cc" stroke="#000" stroke-width="0.6"/>
<path d="M926.8,78.5 L931.8,88 L921.8,88Z" fill="#0000cc" stroke="#000" stroke-width="0.6"/>
<path d="M929.4,86.8 L934.4,96.3 L924.4,96.3Z" fill="#0000cc" stroke="#000" stroke-width="0.6"/>
<path d="M932,80.8 L937,90.3 L927,90.3Z" fill="#0000cc" stroke="#000" stroke-width="0.6"/>
<path d="M934.6,88.1 L939.6,97.6 L929.6,97.6Z" fill="#0000cc" stroke="#000" stroke-width="0.6"/>
<path d="M936,79.8 L943.5,92.8 L928.5,92.8Z" fill="#0000cc"/>
<g clip-path="url(#ci)">
<path d="M396.3,375.7 L399,374.2 L401.8,372.7 L404.5,371.3 L407.3,369.8 L410,368.4 L412.7,366.9 L415.5,365.5 L418.2,364.1 L421,362.7 L423.7,361.4 L426.5,360 L429.2,358.6 L431.9,357.2 L434.7,355.9 L437.4,354.5 L440.2,353.2 L442.9,351.8 L445.6,350.5 L448.4,349.1 L451.1,347.8 L453.9,346.4 L456.6,345.1 L459.3,343.7 L462.1,342.4 L464.8,341 L467.6,339.6 L470.3,338.2 L473.1,336.8 L475.8,335.4 L478.5,334 L481.3,332.5 L484,331.1 L486.8,329.6 L489.5,328.1 L492.2,326.6 L495,325.1 L497.7,323.6 L500.5,322 L503.2,320.4 L505.9,318.8 L508.7,317.2 L511.4,315.6 L514.2,313.9 L516.9,312.2 L519.7,310.5 L522.4,308.7 L525.1,307 L527.9,305.2 L530.6,303.4 L533.4,301.6 L536.1,299.8 L538.8,297.9 L541.6,296.1 L544.3,294.2 L547.1,292.4 L549.8,290.5 L552.5,288.6 L555.3,286.7 L558,284.8 L560.8,282.9 L563.5,281 L566.3,279 L569,277.1 L571.7,275.2 L574.5,273.3 L577.2,271.4 L580,269.5 L582.7,267.6 L585.4,265.6 L588.2,263.7 L590.9,261.9 L593.7,260 L596.4,258.1 L599.1,256.2 L601.9,254.4 L604.6,252.5 L607.4,250.7 L610.1,248.8 L612.9,247 L615.6,245.2 L618.3,243.4 L621.1,241.6 L623.8,239.8 L626.6,238 L629.3,236.2 L632,234.5 L634.8,232.7 L637.5,231 L640.3,229.2 L643,227.5 L645.7,225.8 L648.5,224.1 L651.2,222.4 L654,220.7 L656.7,219 L659.5,217.3 L662.2,215.6 L664.9,213.9 L667.7,212.3 L670.4,210.6 L673.2,209 L675.9,207.3 L678.6,205.7 L681.4,204.1 L684.1,202.5 L686.9,200.8 L689.6,199.2 L692.4,197.6 L695.1,196.1 L697.8,194.5 L700.6,192.9 L703.3,191.3 L706.1,189.8 L708.8,188.2 L711.5,186.7 L714.3,185.2 L717,183.6 L719.8,182.1 L722.5,180.6 L725.2,179.1 L728,177.6 L730.7,176.1 L733.5,174.6 L736.2,173.1 L739,171.6 L741.7,170.2 L744.4,168.7 L747.2,167.3 L749.9,165.8 L752.7,164.4 L755.4,162.9 L758.1,161.5 L760.9,160.1 L763.6,158.7 L766.4,157.3 L769.1,155.9 L771.8,154.5 L774.6,153.1 L777.3,151.7 L780.1,150.3 L782.8,148.9 L785.6,147.6 L788.3,146.2 L791,144.9 L793.8,143.5 L796.5,142.2 L799.3,140.8 L802,139.5 L804.7,138.2 L807.5,136.9 L810.2,135.5 L813,134.2 L815.7,132.9 L818.4,131.6 L821.2,130.3 L823.9,129.1 L826.7,127.8 L829.4,126.5 L832.2,125.2 L834.9,124 L837.6,122.7 L840.4,121.5 L843.1,120.2 L845.9,119 L848.6,117.7 L851.3,116.5 L854.1,115.3 L856.8,114 L859.6,112.8 L862.3,111.6 L865,110.4 L867.8,109.2 L870.5,108 L873.3,106.8 L876,105.6 L878.8,104.4 L881.5,103.3 L884.2,102.1 L887,100.9 L889.7,99.7 L892.5,98.6 L895.2,97.4 L897.9,96.3 L900.7,95.1 L903.4,94 L906.2,92.8 L908.9,91.7 L911.6,90.6 L914.4,89.4 L917.1,88.3 L919.9,87.2 L922.6,86.1 L925.4,85 L928.1,83.9 L930.8,82.8 L933.6,81.7 L936.3,80.6 L939.1,79.5 L941.8,78.4" fill="none" stroke="#00cc00" stroke-width="1.7"/>
<path d="M396.3,374 L399,370.5 L401.8,367.1 L404.5,363.8 L407.3,360.5 L410,357.3 L412.7,354.2 L415.5,351.2 L418.2,348.2 L421,345.2 L423.7,342.4 L426.5,339.5 L429.2,336.8 L431.9,334.1 L434.7,331.4 L437.4,328.8 L440.2,326.2 L442.9,323.6 L445.6,321.1 L448.4,318.7 L451.1,316.2 L453.9,313.8 L456.6,311.5 L459.3,309.1 L462.1,306.8 L464.8,304.5 L467.6,302.2 L470.3,299.9 L473.1,297.6 L475.8,295.4 L478.5,293.1 L481.3,290.9 L484,288.7 L486.8,286.4 L489.5,284.2 L492.2,282 L495,279.8 L497.7,277.6 L500.5,275.4 L503.2,273.2 L505.9,271 L508.7,268.8 L511.4,266.6 L514.2,264.5 L516.9,262.3 L519.7,260.2 L522.4,258.1 L525.1,255.9 L527.9,253.8 L530.6,251.8 L533.4,249.7 L536.1,247.6 L538.8,245.6 L541.6,243.5 L544.3,241.5 L547.1,239.5 L549.8,237.5 L552.5,235.6 L555.3,233.6 L558,231.7 L560.8,229.8 L563.5,227.9 L566.3,226 L569,224.1 L571.7,222.3 L574.5,220.5 L577.2,218.7 L580,216.9 L582.7,215.1 L585.4,213.4 L588.2,211.7 L590.9,210 L593.7,208.3 L596.4,206.6 L599.1,204.9 L601.9,203.3 L604.6,201.7 L607.4,200.1 L610.1,198.5 L612.9,196.9 L615.6,195.4 L618.3,193.8 L621.1,192.3 L623.8,190.8 L626.6,189.3 L629.3,187.8 L632,186.4 L634.8,184.9 L637.5,183.5 L640.3,182.1 L643,180.7 L645.7,179.3 L648.5,177.9 L651.2,176.6 L654,175.2 L656.7,173.9 L659.5,172.6 L662.2,171.3 L664.9,170 L667.7,168.7 L670.4,167.4 L673.2,166.2 L675.9,164.9 L678.6,163.7 L681.4,162.5 L684.1,161.3 L686.9,160.1 L689.6,158.9 L692.4,157.7 L695.1,156.5 L697.8,155.4 L700.6,154.2 L703.3,153.1 L706.1,152 L708.8,150.9 L711.5,149.7 L714.3,148.6 L717,147.6 L719.8,146.5 L722.5,145.4 L725.2,144.4 L728,143.3 L730.7,142.3 L733.5,141.2 L736.2,140.2 L739,139.2 L741.7,138.2 L744.4,137.2 L747.2,136.2 L749.9,135.2 L752.7,134.2 L755.4,133.2 L758.1,132.2 L760.9,131.3 L763.6,130.3 L766.4,129.3 L769.1,128.4 L771.8,127.4 L774.6,126.5 L777.3,125.6 L780.1,124.6 L782.8,123.7 L785.6,122.8 L788.3,121.9 L791,121 L793.8,120.1 L796.5,119.2 L799.3,118.3 L802,117.4 L804.7,116.5 L807.5,115.6 L810.2,114.7 L813,113.8 L815.7,112.9 L818.4,112 L821.2,111.1 L823.9,110.3 L826.7,109.4 L829.4,108.5 L832.2,107.6 L834.9,106.7 L837.6,105.9 L840.4,105 L843.1,104.1 L845.9,103.2 L848.6,102.4 L851.3,101.5 L854.1,100.6 L856.8,99.7 L859.6,98.9 L862.3,98 L865,97.1 L867.8,96.2 L870.5,95.3 L873.3,94.5 L876,93.6 L878.8,92.7 L881.5,91.8 L884.2,90.9 L887,90 L889.7,89.1 L892.5,88.2 L895.2,87.3 L897.9,86.4 L900.7,85.5 L903.4,84.5 L906.2,83.6 L908.9,82.7 L911.6,81.8 L914.4,80.8 L917.1,79.9 L919.9,78.9 L922.6,78 L925.4,77 L928.1,76.1 L930.8,75.1 L933.6,74.1 L936.3,73.1 L939.1,72.2 L941.8,71.2" fill="none" stroke="#2222ee" stroke-width="1.7"/>
<path d="M396.3,353 L399,350.2 L401.8,347.5 L404.5,344.9 L407.3,342.2 L410,339.6 L412.7,337 L415.5,334.4 L418.2,331.8 L421,329.2 L423.7,326.7 L426.5,324.2 L429.2,321.7 L431.9,319.2 L434.7,316.8 L437.4,314.3 L440.2,311.9 L442.9,309.5 L445.6,307.1 L448.4,304.7 L451.1,302.4 L453.9,300.1 L456.6,297.8 L459.3,295.5 L462.1,293.2 L464.8,290.9 L467.6,288.7 L470.3,286.5 L473.1,284.3 L475.8,282.1 L478.5,279.9 L481.3,277.8 L484,275.6 L486.8,273.5 L489.5,271.4 L492.2,269.3 L495,267.3 L497.7,265.2 L500.5,263.2 L503.2,261.2 L505.9,259.2 L508.7,257.2 L511.4,255.2 L514.2,253.3 L516.9,251.3 L519.7,249.4 L522.4,247.5 L525.1,245.6 L527.9,243.7 L530.6,241.9 L533.4,240 L536.1,238.2 L538.8,236.4 L541.6,234.6 L544.3,232.8 L547.1,231 L549.8,229.2 L552.5,227.5 L555.3,225.8 L558,224 L560.8,222.3 L563.5,220.7 L566.3,219 L569,217.3 L571.7,215.7 L574.5,214 L577.2,212.4 L580,210.8 L582.7,209.2 L585.4,207.6 L588.2,206.1 L590.9,204.5 L593.7,202.9 L596.4,201.4 L599.1,199.9 L601.9,198.4 L604.6,196.9 L607.4,195.4 L610.1,193.9 L612.9,192.5 L615.6,191 L618.3,189.6 L621.1,188.2 L623.8,186.7 L626.6,185.3 L629.3,183.9 L632,182.6 L634.8,181.2 L637.5,179.8 L640.3,178.5 L643,177.1 L645.7,175.8 L648.5,174.5 L651.2,173.2 L654,171.9 L656.7,170.6 L659.5,169.3 L662.2,168 L664.9,166.8 L667.7,165.5 L670.4,164.3 L673.2,163 L675.9,161.8 L678.6,160.6 L681.4,159.4 L684.1,158.2 L686.9,157 L689.6,155.8 L692.4,154.7 L695.1,153.5 L697.8,152.3 L700.6,151.2 L703.3,150.1 L706.1,148.9 L708.8,147.8 L711.5,146.7 L714.3,145.6 L717,144.5 L719.8,143.4 L722.5,142.3 L725.2,141.2 L728,140.1 L730.7,139.1 L733.5,138 L736.2,137 L739,135.9 L741.7,134.9 L744.4,133.9 L747.2,132.8 L749.9,131.8 L752.7,130.8 L755.4,129.8 L758.1,128.8 L760.9,127.8 L763.6,126.8 L766.4,125.8 L769.1,124.8 L771.8,123.8 L774.6,122.9 L777.3,121.9 L780.1,120.9 L782.8,120 L785.6,119 L788.3,118.1 L791,117.1 L793.8,116.2 L796.5,115.2 L799.3,114.3 L802,113.4 L804.7,112.5 L807.5,111.5 L810.2,110.6 L813,109.7 L815.7,108.8 L818.4,107.9 L821.2,107 L823.9,106.1 L826.7,105.2 L829.4,104.3 L832.2,103.4 L834.9,102.5 L837.6,101.6 L840.4,100.7 L843.1,99.8 L845.9,99 L848.6,98.1 L851.3,97.2 L854.1,96.3 L856.8,95.4 L859.6,94.6 L862.3,93.7 L865,92.8 L867.8,92 L870.5,91.1 L873.3,90.2 L876,89.4 L878.8,88.5 L881.5,87.6 L884.2,86.8 L887,85.9 L889.7,85 L892.5,84.2 L895.2,83.3 L897.9,82.4 L900.7,81.6 L903.4,80.7 L906.2,79.8 L908.9,79 L911.6,78.1 L914.4,77.2 L917.1,76.4 L919.9,75.5 L922.6,74.6 L925.4,73.7 L928.1,72.9 L930.8,72 L933.6,71.1 L936.3,70.2 L939.1,69.4 L941.8,68.5" fill="none" stroke="#ff0000" stroke-width="1.7"/>
<path d="M396.3,352.6 L399,349.9 L401.8,347.3 L404.5,344.6 L407.3,342 L410,339.4 L412.7,336.8 L415.5,334.3 L418.2,331.7 L421,329.2 L423.7,326.7 L426.5,324.2 L429.2,321.7 L431.9,319.3 L434.7,316.8 L437.4,314.4 L440.2,312 L442.9,309.6 L445.6,307.2 L448.4,304.9 L451.1,302.6 L453.9,300.2 L456.6,298 L459.3,295.7 L462.1,293.4 L464.8,291.2 L467.6,288.9 L470.3,286.7 L473.1,284.5 L475.8,282.4 L478.5,280.2 L481.3,278 L484,275.9 L486.8,273.8 L489.5,271.7 L492.2,269.6 L495,267.6 L497.7,265.5 L500.5,263.5 L503.2,261.5 L505.9,259.5 L508.7,257.5 L511.4,255.5 L514.2,253.5 L516.9,251.6 L519.7,249.7 L522.4,247.8 L525.1,245.9 L527.9,244 L530.6,242.1 L533.4,240.2 L536.1,238.4 L538.8,236.6 L541.6,234.8 L544.3,233 L547.1,231.2 L549.8,229.4 L552.5,227.7 L555.3,225.9 L558,224.2 L560.8,222.5 L563.5,220.8 L566.3,219.1 L569,217.4 L571.7,215.7 L574.5,214.1 L577.2,212.4 L580,210.8 L582.7,209.2 L585.4,207.6 L588.2,206 L590.9,204.4 L593.7,202.8 L596.4,201.3 L599.1,199.7 L601.9,198.2 L604.6,196.7 L607.4,195.2 L610.1,193.7 L612.9,192.2 L615.6,190.7 L618.3,189.3 L621.1,187.8 L623.8,186.4 L626.6,184.9 L629.3,183.5 L632,182.1 L634.8,180.7 L637.5,179.3 L640.3,178 L643,176.6 L645.7,175.2 L648.5,173.9 L651.2,172.5 L654,171.2 L656.7,169.9 L659.5,168.6 L662.2,167.3 L664.9,166 L667.7,164.7 L670.4,163.4 L673.2,162.2 L675.9,160.9 L678.6,159.7 L681.4,158.4 L684.1,157.2 L686.9,156 L689.6,154.8 L692.4,153.6 L695.1,152.4 L697.8,151.2 L700.6,150 L703.3,148.8 L706.1,147.7 L708.8,146.5 L711.5,145.4 L714.3,144.2 L717,143.1 L719.8,142 L722.5,140.8 L725.2,139.7 L728,138.6 L730.7,137.5 L733.5,136.4 L736.2,135.3 L739,134.3 L741.7,133.2 L744.4,132.1 L747.2,131.1 L749.9,130 L752.7,128.9 L755.4,127.9 L758.1,126.9 L760.9,125.8 L763.6,124.8 L766.4,123.8 L769.1,122.8 L771.8,121.8 L774.6,120.8 L777.3,119.8 L780.1,118.8 L782.8,117.8 L785.6,116.8 L788.3,115.8 L791,114.8 L793.8,113.8 L796.5,112.9 L799.3,111.9 L802,110.9 L804.7,110 L807.5,109 L810.2,108.1 L813,107.1 L815.7,106.2 L818.4,105.3 L821.2,104.3 L823.9,103.4 L826.7,102.5 L829.4,101.5 L832.2,100.6 L834.9,99.7 L837.6,98.8 L840.4,97.8 L843.1,96.9 L845.9,96 L848.6,95.1 L851.3,94.2 L854.1,93.3 L856.8,92.4 L859.6,91.5 L862.3,90.6 L865,89.7 L867.8,88.8 L870.5,87.9 L873.3,87 L876,86.1 L878.8,85.2 L881.5,84.3 L884.2,83.4 L887,82.6 L889.7,81.7 L892.5,80.8 L895.2,79.9 L897.9,79 L900.7,78.1 L903.4,77.2 L906.2,76.3 L908.9,75.5 L911.6,74.6 L914.4,73.7 L917.1,72.8 L919.9,71.9 L922.6,71 L925.4,70.1 L928.1,69.2 L930.8,68.3 L933.6,67.4 L936.3,66.6 L939.1,65.7 L941.8,64.8" fill="none" stroke="#000" stroke-width="1.7" stroke-dasharray="3,4"/>
</g>
<path d="M411.7,240.4 H423.7 M417.7,234.4 V246.4" stroke="#ff0000" stroke-width="1.8" fill="none"/>
<path d="M428.2,259.9 H440.2 M434.2,253.9 V265.9" stroke="#ff0000" stroke-width="1.8" fill="none"/>
<path d="M447.9,252.5 H459.9 M453.9,246.5 V258.5" stroke="#ff0000" stroke-width="1.8" fill="none"/>
<path d="M462,252.5 H474 M468,246.5 V258.5" stroke="#ff0000" stroke-width="1.8" fill="none"/>
<path d="M475,185.7 H487 M481,179.7 V191.7" stroke="#ff0000" stroke-width="1.8" fill="none"/>
<path d="M494.2,234.4 H506.2 M500.2,228.4 V240.4" stroke="#ff0000" stroke-width="1.8" fill="none"/>
<path d="M511.6,211.3 H523.6 M517.6,205.3 V217.3" stroke="#ff0000" stroke-width="1.8" fill="none"/>
<path d="M513.6,234.4 H525.6 M519.6,228.4 V240.4" stroke="#ff0000" stroke-width="1.8" fill="none"/>
<path d="M526.3,203.2 H538.3 M532.3,197.2 V209.2" stroke="#ff0000" stroke-width="1.8" fill="none"/>
<path d="M526.7,227.3 H538.7 M532.7,221.3 V233.3" stroke="#ff0000" stroke-width="1.8" fill="none"/>
<path d="M548.8,223.3 H560.8 M554.8,217.3 V229.3" stroke="#ff0000" stroke-width="1.8" fill="none"/>
<path d="M548.4,244.4 H560.4 M554.4,238.4 V250.4" stroke="#ff0000" stroke-width="1.8" fill="none"/>
<path d="M571.9,230.4 H583.9 M577.9,224.4 V236.4" stroke="#ff0000" stroke-width="1.8" fill="none"/>
<path d="M573,259.5 H585 M579,253.5 V265.5" stroke="#ff0000" stroke-width="1.8" fill="none"/>
<path d="M575,193.2 H587 M581,187.2 V199.2" stroke="#ff0000" stroke-width="1.8" fill="none"/>
<path d="M587.1,246.3 H599.1 M593.1,240.3 V252.3" stroke="#ff0000" stroke-width="1.8" fill="none"/>
<path d="M592.1,125.7 H604.1 M598.1,119.7 V131.7" stroke="#ff0000" stroke-width="1.8" fill="none"/>
<path d="M575.5,143.8 H587.5 M581.5,137.8 V149.8" stroke="#ff0000" stroke-width="1.8" fill="none"/>
<path d="M592.1,234.3 H604.1 M598.1,228.3 V240.3" stroke="#ff0000" stroke-width="1.8" fill="none"/>
<text x="127.9" y="754.8" font-size="29" text-anchor="start" font-weight="bold" textLength="188.11" lengthAdjust="spacingAndGlyphs">experiments</text>
<path d="M150.8,782.4 H174.1 M162.4,770.8 V794" stroke="#ff0000" stroke-width="1.8" fill="none"/>
<text x="197.4" y="792.2" font-size="31.5" text-anchor="start" font-weight="normal" textLength="166.41" lengthAdjust="spacingAndGlyphs">Cynn(2002)</text>
<text x="128" y="825.6" font-size="29" text-anchor="start" font-weight="bold" textLength="207.39" lengthAdjust="spacingAndGlyphs">present study</text>
<circle cx="163" cy="854.7" r="9.6" fill="#00964b" stroke="#000" stroke-width="1.1"/>
<text x="196.6" y="863.7" font-size="31.5" text-anchor="start" font-weight="normal" textLength="62.03" lengthAdjust="spacingAndGlyphs">run1</text>
<path d="M162.8,880.4 L172.3,896.9 L153.3,896.9Z" fill="#0000cc"/>
<text x="196.5" y="899.6" font-size="31.5" text-anchor="start" font-weight="normal" textLength="65.62" lengthAdjust="spacingAndGlyphs">run2</text>
<line x1="132.2" y1="927.8" x2="193" y2="927.8" stroke="#000" stroke-width="2.4"/>
<text x="198.4" y="936.3" font-size="31.5" text-anchor="start" font-weight="normal" textLength="140.87" lengthAdjust="spacingAndGlyphs">Vinet EoS</text>
<text x="153.9" y="1038.6" font-size="29" text-anchor="start" font-weight="bold" textLength="184.05" lengthAdjust="spacingAndGlyphs">calculations</text>
<line x1="158.2" y1="1064.2" x2="219.7" y2="1064.2" stroke="#ff0000" stroke-width="2"/>
<text x="222.1" y="1075.2" font-size="31.5" text-anchor="start" font-weight="normal" textLength="63.59" lengthAdjust="spacingAndGlyphs">LDA</text>
<line x1="158.2" y1="1101.6" x2="219.7" y2="1101.6" stroke="#1c1ca0" stroke-width="2"/>
<text x="222.1" y="1112" font-size="31.5" text-anchor="start" font-weight="normal" textLength="66.18" lengthAdjust="spacingAndGlyphs">PBE</text>
<line x1="158.2" y1="1138.1" x2="219.7" y2="1138.1" stroke="#000" stroke-width="2" stroke-dasharray="6.6,6.1"/>
<text x="222.1" y="1148.5" font-size="31.5" text-anchor="start" font-weight="normal" textLength="106.03" lengthAdjust="spacingAndGlyphs">PBEsol</text>
<line x1="158.2" y1="1174.3" x2="219.7" y2="1174.3" stroke="#0a960a" stroke-width="2"/>
<text x="223.3" y="1185" font-size="31.5" text-anchor="start" font-weight="normal" textLength="90.38" lengthAdjust="spacingAndGlyphs">SCAN</text>
<text x="682.6" y="651.3" font-size="100" text-anchor="start" font-weight="bold" textLength="128.19" lengthAdjust="spacingAndGlyphs">Ru</text>
</svg>
</body></html>
